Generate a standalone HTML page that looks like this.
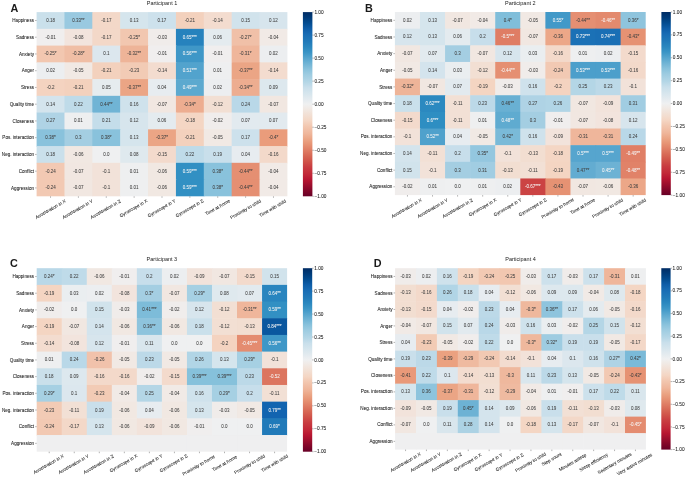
<!DOCTYPE html>
<html><head><meta charset="utf-8"><title>Correlation heatmaps</title>
<style>
html,body{margin:0;padding:0;background:#fff;}
body{width:685px;height:478px;overflow:hidden;position:relative;font-family:"Liberation Sans",sans-serif;color:#1a1a1a;}
#w{position:absolute;left:0;top:0;width:685px;height:478px;filter:blur(0.55px);}
svg{position:absolute;left:0;top:0;}
#t{position:absolute;left:0;top:0;width:685px;height:478px;filter:grayscale(1);}
#t div{position:absolute;white-space:nowrap;line-height:1;}
.yl,.xl,.cl{-webkit-text-stroke:0.06px #1a1a1a;}
.a{-webkit-text-stroke:0.04px currentColor;}
.a{transform:translate(-50%,-50%);font-size:4.5px;color:#404040;}
.yl{transform:translate(-100%,-50%);font-size:4.6px;}
.xl{transform:translate(-50%,-50%) rotate(-30deg);font-size:4.6px;}
.cl{transform:translate(0,-50%);font-size:4.75px;}
.tt{transform:translate(-50%,0);font-size:5.5px;}
.lt{font-weight:bold;font-size:10.8px;}
</style></head><body><div id="w">
<svg width="685" height="478" viewBox="0 0 685 478"><defs><linearGradient id="g0" x1="0" y1="0" x2="0" y2="1"><stop offset="0" stop-color="#002c64"/><stop offset="0.03" stop-color="#003b79"/><stop offset="0.06" stop-color="#034c90"/><stop offset="0.09" stop-color="#0e5da8"/><stop offset="0.12" stop-color="#186cb4"/><stop offset="0.16" stop-color="#217ab9"/><stop offset="0.19" stop-color="#2a87bf"/><stop offset="0.22" stop-color="#3b95c6"/><stop offset="0.25" stop-color="#56a5ce"/><stop offset="0.28" stop-color="#70b4d5"/><stop offset="0.31" stop-color="#89c2dc"/><stop offset="0.34" stop-color="#9ecce1"/><stop offset="0.38" stop-color="#b4d6e6"/><stop offset="0.41" stop-color="#c9dfeb"/><stop offset="0.44" stop-color="#d5e5ed"/><stop offset="0.47" stop-color="#e2eaef"/><stop offset="0.5" stop-color="#eff0f1"/><stop offset="0.53" stop-color="#f1e8e2"/><stop offset="0.56" stop-color="#f2dfd3"/><stop offset="0.59" stop-color="#f4d6c4"/><stop offset="0.62" stop-color="#f2c7b0"/><stop offset="0.66" stop-color="#efb69b"/><stop offset="0.69" stop-color="#eba585"/><stop offset="0.72" stop-color="#e69273"/><stop offset="0.75" stop-color="#df7d64"/><stop offset="0.78" stop-color="#d76855"/><stop offset="0.81" stop-color="#d05349"/><stop offset="0.84" stop-color="#c93d41"/><stop offset="0.88" stop-color="#c22838"/><stop offset="0.91" stop-color="#b71531"/><stop offset="0.94" stop-color="#9c0e2d"/><stop offset="0.97" stop-color="#810629"/><stop offset="1" stop-color="#670026"/></linearGradient><linearGradient id="g1" x1="0" y1="0" x2="0" y2="1"><stop offset="0" stop-color="#002c64"/><stop offset="0.03" stop-color="#003b79"/><stop offset="0.06" stop-color="#034c90"/><stop offset="0.09" stop-color="#0e5da8"/><stop offset="0.12" stop-color="#186cb4"/><stop offset="0.16" stop-color="#217ab9"/><stop offset="0.19" stop-color="#2a87bf"/><stop offset="0.22" stop-color="#3b95c6"/><stop offset="0.25" stop-color="#56a5ce"/><stop offset="0.28" stop-color="#70b4d5"/><stop offset="0.31" stop-color="#89c2dc"/><stop offset="0.34" stop-color="#9ecce1"/><stop offset="0.38" stop-color="#b4d6e6"/><stop offset="0.41" stop-color="#c9dfeb"/><stop offset="0.44" stop-color="#d5e5ed"/><stop offset="0.47" stop-color="#e2eaef"/><stop offset="0.5" stop-color="#eff0f1"/><stop offset="0.53" stop-color="#f1e8e2"/><stop offset="0.56" stop-color="#f2dfd3"/><stop offset="0.59" stop-color="#f4d6c4"/><stop offset="0.62" stop-color="#f2c7b0"/><stop offset="0.66" stop-color="#efb69b"/><stop offset="0.69" stop-color="#eba585"/><stop offset="0.72" stop-color="#e69273"/><stop offset="0.75" stop-color="#df7d64"/><stop offset="0.78" stop-color="#d76855"/><stop offset="0.81" stop-color="#d05349"/><stop offset="0.84" stop-color="#c93d41"/><stop offset="0.88" stop-color="#c22838"/><stop offset="0.91" stop-color="#b71531"/><stop offset="0.94" stop-color="#9c0e2d"/><stop offset="0.97" stop-color="#810629"/><stop offset="1" stop-color="#670026"/></linearGradient><linearGradient id="g2" x1="0" y1="0" x2="0" y2="1"><stop offset="0" stop-color="#002c64"/><stop offset="0.03" stop-color="#003b79"/><stop offset="0.06" stop-color="#034c90"/><stop offset="0.09" stop-color="#0e5da8"/><stop offset="0.12" stop-color="#186cb4"/><stop offset="0.16" stop-color="#217ab9"/><stop offset="0.19" stop-color="#2a87bf"/><stop offset="0.22" stop-color="#3b95c6"/><stop offset="0.25" stop-color="#56a5ce"/><stop offset="0.28" stop-color="#70b4d5"/><stop offset="0.31" stop-color="#89c2dc"/><stop offset="0.34" stop-color="#9ecce1"/><stop offset="0.38" stop-color="#b4d6e6"/><stop offset="0.41" stop-color="#c9dfeb"/><stop offset="0.44" stop-color="#d5e5ed"/><stop offset="0.47" stop-color="#e2eaef"/><stop offset="0.5" stop-color="#eff0f1"/><stop offset="0.53" stop-color="#f1e8e2"/><stop offset="0.56" stop-color="#f2dfd3"/><stop offset="0.59" stop-color="#f4d6c4"/><stop offset="0.62" stop-color="#f2c7b0"/><stop offset="0.66" stop-color="#efb69b"/><stop offset="0.69" stop-color="#eba585"/><stop offset="0.72" stop-color="#e69273"/><stop offset="0.75" stop-color="#df7d64"/><stop offset="0.78" stop-color="#d76855"/><stop offset="0.81" stop-color="#d05349"/><stop offset="0.84" stop-color="#c93d41"/><stop offset="0.88" stop-color="#c22838"/><stop offset="0.91" stop-color="#b71531"/><stop offset="0.94" stop-color="#9c0e2d"/><stop offset="0.97" stop-color="#810629"/><stop offset="1" stop-color="#670026"/></linearGradient><linearGradient id="g3" x1="0" y1="0" x2="0" y2="1"><stop offset="0" stop-color="#002c64"/><stop offset="0.03" stop-color="#003b79"/><stop offset="0.06" stop-color="#034c90"/><stop offset="0.09" stop-color="#0e5da8"/><stop offset="0.12" stop-color="#186cb4"/><stop offset="0.16" stop-color="#217ab9"/><stop offset="0.19" stop-color="#2a87bf"/><stop offset="0.22" stop-color="#3b95c6"/><stop offset="0.25" stop-color="#56a5ce"/><stop offset="0.28" stop-color="#70b4d5"/><stop offset="0.31" stop-color="#89c2dc"/><stop offset="0.34" stop-color="#9ecce1"/><stop offset="0.38" stop-color="#b4d6e6"/><stop offset="0.41" stop-color="#c9dfeb"/><stop offset="0.44" stop-color="#d5e5ed"/><stop offset="0.47" stop-color="#e2eaef"/><stop offset="0.5" stop-color="#eff0f1"/><stop offset="0.53" stop-color="#f1e8e2"/><stop offset="0.56" stop-color="#f2dfd3"/><stop offset="0.59" stop-color="#f4d6c4"/><stop offset="0.62" stop-color="#f2c7b0"/><stop offset="0.66" stop-color="#efb69b"/><stop offset="0.69" stop-color="#eba585"/><stop offset="0.72" stop-color="#e69273"/><stop offset="0.75" stop-color="#df7d64"/><stop offset="0.78" stop-color="#d76855"/><stop offset="0.81" stop-color="#d05349"/><stop offset="0.84" stop-color="#c93d41"/><stop offset="0.88" stop-color="#c22838"/><stop offset="0.91" stop-color="#b71531"/><stop offset="0.94" stop-color="#9c0e2d"/><stop offset="0.97" stop-color="#810629"/><stop offset="1" stop-color="#670026"/></linearGradient></defs>
<g stroke="none">
<rect x="36.6" y="12.1" width="28.47" height="17.35" fill="#cae0eb"/>
<rect x="64.47" y="12.1" width="28.47" height="17.35" fill="#99c9e0"/>
<rect x="92.33" y="12.1" width="28.47" height="17.35" fill="#f3d8c8"/>
<rect x="120.2" y="12.1" width="28.47" height="17.35" fill="#d5e5ed"/>
<rect x="148.07" y="12.1" width="28.47" height="17.35" fill="#cde1ec"/>
<rect x="175.93" y="12.1" width="28.47" height="17.35" fill="#f3d1bd"/>
<rect x="203.8" y="12.1" width="28.47" height="17.35" fill="#f3dccf"/>
<rect x="231.67" y="12.1" width="28.47" height="17.35" fill="#d1e3ec"/>
<rect x="259.53" y="12.1" width="27.87" height="17.35" fill="#d7e5ed"/>
<rect x="36.6" y="28.85" width="28.47" height="17.35" fill="#f0eeee"/>
<rect x="64.47" y="28.85" width="28.47" height="17.35" fill="#f2e4dd"/>
<rect x="92.33" y="28.85" width="28.47" height="17.35" fill="#f3d8c8"/>
<rect x="120.2" y="28.85" width="28.47" height="17.35" fill="#f2c7b0"/>
<rect x="148.07" y="28.85" width="28.47" height="17.35" fill="#f0ecea"/>
<rect x="175.93" y="28.85" width="28.47" height="17.35" fill="#2682bd"/>
<rect x="203.8" y="28.85" width="28.47" height="17.35" fill="#e4ebef"/>
<rect x="231.67" y="28.85" width="28.47" height="17.35" fill="#f0c0a8"/>
<rect x="259.53" y="28.85" width="27.87" height="17.35" fill="#f1eae6"/>
<rect x="36.6" y="45.59" width="28.47" height="17.35" fill="#f2c7b0"/>
<rect x="64.47" y="45.59" width="28.47" height="17.35" fill="#f0bea5"/>
<rect x="92.33" y="45.59" width="28.47" height="17.35" fill="#dce7ee"/>
<rect x="120.2" y="45.59" width="28.47" height="17.35" fill="#eeb498"/>
<rect x="148.07" y="45.59" width="28.47" height="17.35" fill="#f0eeee"/>
<rect x="175.93" y="45.59" width="28.47" height="17.35" fill="#3f97c7"/>
<rect x="203.8" y="45.59" width="28.47" height="17.35" fill="#f0eeee"/>
<rect x="231.67" y="45.59" width="28.47" height="17.35" fill="#efb69b"/>
<rect x="259.53" y="45.59" width="27.87" height="17.35" fill="#eceef0"/>
<rect x="36.6" y="62.34" width="28.47" height="17.35" fill="#eceef0"/>
<rect x="64.47" y="62.34" width="28.47" height="17.35" fill="#f1e9e4"/>
<rect x="92.33" y="62.34" width="28.47" height="17.35" fill="#f3d1bd"/>
<rect x="120.2" y="62.34" width="28.47" height="17.35" fill="#f2cbb5"/>
<rect x="148.07" y="62.34" width="28.47" height="17.35" fill="#f3dccf"/>
<rect x="175.93" y="62.34" width="28.47" height="17.35" fill="#52a3cd"/>
<rect x="203.8" y="62.34" width="28.47" height="17.35" fill="#eeeff0"/>
<rect x="231.67" y="62.34" width="28.47" height="17.35" fill="#eba585"/>
<rect x="259.53" y="62.34" width="27.87" height="17.35" fill="#f3dccf"/>
<rect x="36.6" y="79.08" width="28.47" height="17.35" fill="#f4d3c0"/>
<rect x="64.47" y="79.08" width="28.47" height="17.35" fill="#f3d1bd"/>
<rect x="92.33" y="79.08" width="28.47" height="17.35" fill="#e6ecef"/>
<rect x="120.2" y="79.08" width="28.47" height="17.35" fill="#eba585"/>
<rect x="148.07" y="79.08" width="28.47" height="17.35" fill="#e7ecf0"/>
<rect x="175.93" y="79.08" width="28.47" height="17.35" fill="#5ca9cf"/>
<rect x="203.8" y="79.08" width="28.47" height="17.35" fill="#eceef0"/>
<rect x="231.67" y="79.08" width="28.47" height="17.35" fill="#edad90"/>
<rect x="259.53" y="79.08" width="27.87" height="17.35" fill="#dde8ee"/>
<rect x="36.6" y="95.83" width="28.47" height="17.35" fill="#d4e4ed"/>
<rect x="64.47" y="95.83" width="28.47" height="17.35" fill="#bfdbe9"/>
<rect x="92.33" y="95.83" width="28.47" height="17.35" fill="#70b4d5"/>
<rect x="120.2" y="95.83" width="28.47" height="17.35" fill="#cfe2ec"/>
<rect x="148.07" y="95.83" width="28.47" height="17.35" fill="#f1e7e1"/>
<rect x="175.93" y="95.83" width="28.47" height="17.35" fill="#edad90"/>
<rect x="203.8" y="95.83" width="28.47" height="17.35" fill="#f2dfd3"/>
<rect x="231.67" y="95.83" width="28.47" height="17.35" fill="#b9d8e8"/>
<rect x="259.53" y="95.83" width="27.87" height="17.35" fill="#f1e7e1"/>
<rect x="36.6" y="112.57" width="28.47" height="17.35" fill="#afd3e5"/>
<rect x="64.47" y="112.57" width="28.47" height="17.35" fill="#eeeff0"/>
<rect x="92.33" y="112.57" width="28.47" height="17.35" fill="#c4ddea"/>
<rect x="120.2" y="112.57" width="28.47" height="17.35" fill="#d7e5ed"/>
<rect x="148.07" y="112.57" width="28.47" height="17.35" fill="#e4ebef"/>
<rect x="175.93" y="112.57" width="28.47" height="17.35" fill="#f4d6c4"/>
<rect x="203.8" y="112.57" width="28.47" height="17.35" fill="#f0edec"/>
<rect x="231.67" y="112.57" width="28.47" height="17.35" fill="#e2eaef"/>
<rect x="259.53" y="112.57" width="27.87" height="17.35" fill="#e2eaef"/>
<rect x="36.6" y="129.32" width="28.47" height="17.35" fill="#89c2dc"/>
<rect x="64.47" y="129.32" width="28.47" height="17.35" fill="#a4cee2"/>
<rect x="92.33" y="129.32" width="28.47" height="17.35" fill="#89c2dc"/>
<rect x="120.2" y="129.32" width="28.47" height="17.35" fill="#d5e5ed"/>
<rect x="148.07" y="129.32" width="28.47" height="17.35" fill="#eba585"/>
<rect x="175.93" y="129.32" width="28.47" height="17.35" fill="#f3d1bd"/>
<rect x="203.8" y="129.32" width="28.47" height="17.35" fill="#f1e9e4"/>
<rect x="231.67" y="129.32" width="28.47" height="17.35" fill="#cde1ec"/>
<rect x="259.53" y="129.32" width="27.87" height="17.35" fill="#ea9c7b"/>
<rect x="36.6" y="146.06" width="28.47" height="17.35" fill="#cae0eb"/>
<rect x="64.47" y="146.06" width="28.47" height="17.35" fill="#f1e8e2"/>
<rect x="92.33" y="146.06" width="28.47" height="17.35" fill="#eff0f1"/>
<rect x="120.2" y="146.06" width="28.47" height="17.35" fill="#dfe9ee"/>
<rect x="148.07" y="146.06" width="28.47" height="17.35" fill="#f3dacc"/>
<rect x="175.93" y="146.06" width="28.47" height="17.35" fill="#bfdbe9"/>
<rect x="203.8" y="146.06" width="28.47" height="17.35" fill="#c9dfeb"/>
<rect x="231.67" y="146.06" width="28.47" height="17.35" fill="#e7ecf0"/>
<rect x="259.53" y="146.06" width="27.87" height="17.35" fill="#f3d9ca"/>
<rect x="36.6" y="162.81" width="28.47" height="17.35" fill="#f2c9b3"/>
<rect x="64.47" y="162.81" width="28.47" height="17.35" fill="#f1e7e1"/>
<rect x="92.33" y="162.81" width="28.47" height="17.35" fill="#f2e2d9"/>
<rect x="120.2" y="162.81" width="28.47" height="17.35" fill="#eeeff0"/>
<rect x="148.07" y="162.81" width="28.47" height="17.35" fill="#f1e8e2"/>
<rect x="175.93" y="162.81" width="28.47" height="17.35" fill="#3290c3"/>
<rect x="203.8" y="162.81" width="28.47" height="17.35" fill="#89c2dc"/>
<rect x="231.67" y="162.81" width="28.47" height="17.35" fill="#e58f72"/>
<rect x="259.53" y="162.81" width="27.87" height="17.35" fill="#f1eae6"/>
<rect x="36.6" y="179.55" width="28.47" height="16.75" fill="#f2c9b3"/>
<rect x="64.47" y="179.55" width="28.47" height="16.75" fill="#f1e7e1"/>
<rect x="92.33" y="179.55" width="28.47" height="16.75" fill="#f2e2d9"/>
<rect x="120.2" y="179.55" width="28.47" height="16.75" fill="#eeeff0"/>
<rect x="148.07" y="179.55" width="28.47" height="16.75" fill="#f1e8e2"/>
<rect x="175.93" y="179.55" width="28.47" height="16.75" fill="#3290c3"/>
<rect x="203.8" y="179.55" width="28.47" height="16.75" fill="#89c2dc"/>
<rect x="231.67" y="179.55" width="28.47" height="16.75" fill="#e58f72"/>
<rect x="259.53" y="179.55" width="27.87" height="16.75" fill="#f1eae6"/>
<rect x="302.9" y="12.1" width="9.5" height="184.2" fill="url(#g0)"/>
<rect x="394.9" y="12" width="25.68" height="17.25" fill="#eceef0"/>
<rect x="419.98" y="12" width="25.68" height="17.25" fill="#d5e5ed"/>
<rect x="445.06" y="12" width="25.68" height="17.25" fill="#f1e7e1"/>
<rect x="470.14" y="12" width="25.68" height="17.25" fill="#f1eae6"/>
<rect x="495.22" y="12" width="25.68" height="17.25" fill="#80beda"/>
<rect x="520.3" y="12" width="25.68" height="17.25" fill="#f1e9e4"/>
<rect x="545.38" y="12" width="25.68" height="17.25" fill="#4299c8"/>
<rect x="570.46" y="12" width="25.68" height="17.25" fill="#e58f72"/>
<rect x="595.54" y="12" width="25.68" height="17.25" fill="#e38a6e"/>
<rect x="620.62" y="12" width="25.08" height="17.25" fill="#8ec4dd"/>
<rect x="394.9" y="28.65" width="25.68" height="17.25" fill="#d7e5ed"/>
<rect x="419.98" y="28.65" width="25.68" height="17.25" fill="#d5e5ed"/>
<rect x="445.06" y="28.65" width="25.68" height="17.25" fill="#e4ebef"/>
<rect x="470.14" y="28.65" width="25.68" height="17.25" fill="#c7deeb"/>
<rect x="495.22" y="28.65" width="25.68" height="17.25" fill="#df7d64"/>
<rect x="520.3" y="28.65" width="25.68" height="17.25" fill="#f1e7e1"/>
<rect x="545.38" y="28.65" width="25.68" height="17.25" fill="#eca788"/>
<rect x="570.46" y="28.65" width="25.68" height="17.25" fill="#1b71b6"/>
<rect x="595.54" y="28.65" width="25.68" height="17.25" fill="#1a6fb5"/>
<rect x="620.62" y="28.65" width="25.08" height="17.25" fill="#e69273"/>
<rect x="394.9" y="45.29" width="25.68" height="17.25" fill="#f1e7e1"/>
<rect x="419.98" y="45.29" width="25.68" height="17.25" fill="#e2eaef"/>
<rect x="445.06" y="45.29" width="25.68" height="17.25" fill="#a4cee2"/>
<rect x="470.14" y="45.29" width="25.68" height="17.25" fill="#f1e7e1"/>
<rect x="495.22" y="45.29" width="25.68" height="17.25" fill="#d7e5ed"/>
<rect x="520.3" y="45.29" width="25.68" height="17.25" fill="#eaeef0"/>
<rect x="545.38" y="45.29" width="25.68" height="17.25" fill="#f3d9ca"/>
<rect x="570.46" y="45.29" width="25.68" height="17.25" fill="#eeeff0"/>
<rect x="595.54" y="45.29" width="25.68" height="17.25" fill="#eceef0"/>
<rect x="620.62" y="45.29" width="25.08" height="17.25" fill="#f3dacc"/>
<rect x="394.9" y="61.94" width="25.68" height="17.25" fill="#f1e9e4"/>
<rect x="419.98" y="61.94" width="25.68" height="17.25" fill="#d4e4ed"/>
<rect x="445.06" y="61.94" width="25.68" height="17.25" fill="#eaeef0"/>
<rect x="470.14" y="61.94" width="25.68" height="17.25" fill="#f2dfd3"/>
<rect x="495.22" y="61.94" width="25.68" height="17.25" fill="#e58f72"/>
<rect x="520.3" y="61.94" width="25.68" height="17.25" fill="#f0ecea"/>
<rect x="545.38" y="61.94" width="25.68" height="17.25" fill="#f2c9b3"/>
<rect x="570.46" y="61.94" width="25.68" height="17.25" fill="#4c9fcb"/>
<rect x="595.54" y="61.94" width="25.68" height="17.25" fill="#4c9fcb"/>
<rect x="620.62" y="61.94" width="25.08" height="17.25" fill="#f3d9ca"/>
<rect x="394.9" y="78.58" width="25.68" height="17.25" fill="#eeb498"/>
<rect x="419.98" y="78.58" width="25.68" height="17.25" fill="#f1e7e1"/>
<rect x="445.06" y="78.58" width="25.68" height="17.25" fill="#e2eaef"/>
<rect x="470.14" y="78.58" width="25.68" height="17.25" fill="#f4d5c2"/>
<rect x="495.22" y="78.58" width="25.68" height="17.25" fill="#f0ecea"/>
<rect x="520.3" y="78.58" width="25.68" height="17.25" fill="#cfe2ec"/>
<rect x="545.38" y="78.58" width="25.68" height="17.25" fill="#f4d3c0"/>
<rect x="570.46" y="78.58" width="25.68" height="17.25" fill="#b4d6e6"/>
<rect x="595.54" y="78.58" width="25.68" height="17.25" fill="#bcd9e8"/>
<rect x="620.62" y="78.58" width="25.08" height="17.25" fill="#f2e2d9"/>
<rect x="394.9" y="95.23" width="25.68" height="17.25" fill="#cae0eb"/>
<rect x="419.98" y="95.23" width="25.68" height="17.25" fill="#2b89c0"/>
<rect x="445.06" y="95.23" width="25.68" height="17.25" fill="#f2e0d5"/>
<rect x="470.14" y="95.23" width="25.68" height="17.25" fill="#bcd9e8"/>
<rect x="495.22" y="95.23" width="25.68" height="17.25" fill="#69b0d3"/>
<rect x="520.3" y="95.23" width="25.68" height="17.25" fill="#afd3e5"/>
<rect x="545.38" y="95.23" width="25.68" height="17.25" fill="#b1d5e6"/>
<rect x="570.46" y="95.23" width="25.68" height="17.25" fill="#f1e7e1"/>
<rect x="595.54" y="95.23" width="25.68" height="17.25" fill="#f2e3db"/>
<rect x="620.62" y="95.23" width="25.08" height="17.25" fill="#a1cde2"/>
<rect x="394.9" y="111.87" width="25.68" height="17.25" fill="#f3dacc"/>
<rect x="419.98" y="111.87" width="25.68" height="17.25" fill="#2e8ec2"/>
<rect x="445.06" y="111.87" width="25.68" height="17.25" fill="#f2e0d5"/>
<rect x="470.14" y="111.87" width="25.68" height="17.25" fill="#eeeff0"/>
<rect x="495.22" y="111.87" width="25.68" height="17.25" fill="#5fabd0"/>
<rect x="520.3" y="111.87" width="25.68" height="17.25" fill="#a4cee2"/>
<rect x="545.38" y="111.87" width="25.68" height="17.25" fill="#f0eeee"/>
<rect x="570.46" y="111.87" width="25.68" height="17.25" fill="#f1e7e1"/>
<rect x="595.54" y="111.87" width="25.68" height="17.25" fill="#f2e4dd"/>
<rect x="620.62" y="111.87" width="25.08" height="17.25" fill="#d7e5ed"/>
<rect x="394.9" y="128.52" width="25.68" height="17.25" fill="#f2e2d9"/>
<rect x="419.98" y="128.52" width="25.68" height="17.25" fill="#4fa1cc"/>
<rect x="445.06" y="128.52" width="25.68" height="17.25" fill="#e7ecf0"/>
<rect x="470.14" y="128.52" width="25.68" height="17.25" fill="#f1e9e4"/>
<rect x="495.22" y="128.52" width="25.68" height="17.25" fill="#7abad8"/>
<rect x="520.3" y="128.52" width="25.68" height="17.25" fill="#cfe2ec"/>
<rect x="545.38" y="128.52" width="25.68" height="17.25" fill="#f2e3db"/>
<rect x="570.46" y="128.52" width="25.68" height="17.25" fill="#efb69b"/>
<rect x="595.54" y="128.52" width="25.68" height="17.25" fill="#efb69b"/>
<rect x="620.62" y="128.52" width="25.08" height="17.25" fill="#b9d8e8"/>
<rect x="394.9" y="145.16" width="25.68" height="17.25" fill="#d4e4ed"/>
<rect x="419.98" y="145.16" width="25.68" height="17.25" fill="#f2e0d5"/>
<rect x="445.06" y="145.16" width="25.68" height="17.25" fill="#c7deeb"/>
<rect x="470.14" y="145.16" width="25.68" height="17.25" fill="#94c7df"/>
<rect x="495.22" y="145.16" width="25.68" height="17.25" fill="#f2e2d9"/>
<rect x="520.3" y="145.16" width="25.68" height="17.25" fill="#f2ded1"/>
<rect x="545.38" y="145.16" width="25.68" height="17.25" fill="#f4d6c4"/>
<rect x="570.46" y="145.16" width="25.68" height="17.25" fill="#56a5ce"/>
<rect x="595.54" y="145.16" width="25.68" height="17.25" fill="#56a5ce"/>
<rect x="620.62" y="145.16" width="25.08" height="17.25" fill="#e07f66"/>
<rect x="394.9" y="161.81" width="25.68" height="17.25" fill="#d1e3ec"/>
<rect x="419.98" y="161.81" width="25.68" height="17.25" fill="#f2e2d9"/>
<rect x="445.06" y="161.81" width="25.68" height="17.25" fill="#a4cee2"/>
<rect x="470.14" y="161.81" width="25.68" height="17.25" fill="#a1cde2"/>
<rect x="495.22" y="161.81" width="25.68" height="17.25" fill="#f2ded1"/>
<rect x="520.3" y="161.81" width="25.68" height="17.25" fill="#f2e0d5"/>
<rect x="545.38" y="161.81" width="25.68" height="17.25" fill="#f4d5c2"/>
<rect x="570.46" y="161.81" width="25.68" height="17.25" fill="#63acd1"/>
<rect x="595.54" y="161.81" width="25.68" height="17.25" fill="#6db2d4"/>
<rect x="620.62" y="161.81" width="25.08" height="17.25" fill="#e18268"/>
<rect x="394.9" y="178.45" width="25.68" height="16.65" fill="#f0edec"/>
<rect x="419.98" y="178.45" width="25.68" height="16.65" fill="#eeeff0"/>
<rect x="445.06" y="178.45" width="25.68" height="16.65" fill="#eff0f1"/>
<rect x="470.14" y="178.45" width="25.68" height="16.65" fill="#eeeff0"/>
<rect x="495.22" y="178.45" width="25.68" height="16.65" fill="#eceef0"/>
<rect x="520.3" y="178.45" width="25.68" height="16.65" fill="#cb4343"/>
<rect x="545.38" y="178.45" width="25.68" height="16.65" fill="#e69273"/>
<rect x="570.46" y="178.45" width="25.68" height="16.65" fill="#f1e7e1"/>
<rect x="595.54" y="178.45" width="25.68" height="16.65" fill="#f1e8e2"/>
<rect x="620.62" y="178.45" width="25.08" height="16.65" fill="#eca788"/>
<rect x="661.4" y="12" width="9.4" height="183.1" fill="url(#g1)"/>
<rect x="36.7" y="268.2" width="25.64" height="17.28" fill="#b9d8e8"/>
<rect x="61.74" y="268.2" width="25.64" height="17.28" fill="#bfdbe9"/>
<rect x="86.78" y="268.2" width="25.64" height="17.28" fill="#f1e8e2"/>
<rect x="111.82" y="268.2" width="25.64" height="17.28" fill="#f0eeee"/>
<rect x="136.86" y="268.2" width="25.64" height="17.28" fill="#c7deeb"/>
<rect x="161.9" y="268.2" width="25.64" height="17.28" fill="#eceef0"/>
<rect x="186.94" y="268.2" width="25.64" height="17.28" fill="#f2e3db"/>
<rect x="211.98" y="268.2" width="25.64" height="17.28" fill="#f1e7e1"/>
<rect x="237.02" y="268.2" width="25.64" height="17.28" fill="#f3dacc"/>
<rect x="262.06" y="268.2" width="25.04" height="17.28" fill="#d1e3ec"/>
<rect x="36.7" y="284.88" width="25.64" height="17.28" fill="#f4d5c2"/>
<rect x="61.74" y="284.88" width="25.64" height="17.28" fill="#eaeef0"/>
<rect x="86.78" y="284.88" width="25.64" height="17.28" fill="#eceef0"/>
<rect x="111.82" y="284.88" width="25.64" height="17.28" fill="#f2e4dd"/>
<rect x="136.86" y="284.88" width="25.64" height="17.28" fill="#a4cee2"/>
<rect x="161.9" y="284.88" width="25.64" height="17.28" fill="#f1e7e1"/>
<rect x="186.94" y="284.88" width="25.64" height="17.28" fill="#a6d0e3"/>
<rect x="211.98" y="284.88" width="25.64" height="17.28" fill="#dfe9ee"/>
<rect x="237.02" y="284.88" width="25.64" height="17.28" fill="#e2eaef"/>
<rect x="262.06" y="284.88" width="25.04" height="17.28" fill="#2985bf"/>
<rect x="36.7" y="301.56" width="25.64" height="17.28" fill="#f0edec"/>
<rect x="61.74" y="301.56" width="25.64" height="17.28" fill="#eff0f1"/>
<rect x="86.78" y="301.56" width="25.64" height="17.28" fill="#d1e3ec"/>
<rect x="111.82" y="301.56" width="25.64" height="17.28" fill="#f0ecea"/>
<rect x="136.86" y="301.56" width="25.64" height="17.28" fill="#7dbcd9"/>
<rect x="161.9" y="301.56" width="25.64" height="17.28" fill="#f0edec"/>
<rect x="186.94" y="301.56" width="25.64" height="17.28" fill="#d7e5ed"/>
<rect x="211.98" y="301.56" width="25.64" height="17.28" fill="#f2dfd3"/>
<rect x="237.02" y="301.56" width="25.64" height="17.28" fill="#efb69b"/>
<rect x="262.06" y="301.56" width="25.04" height="17.28" fill="#3290c3"/>
<rect x="36.7" y="318.25" width="25.64" height="17.28" fill="#f4d5c2"/>
<rect x="61.74" y="318.25" width="25.64" height="17.28" fill="#f1e7e1"/>
<rect x="86.78" y="318.25" width="25.64" height="17.28" fill="#d4e4ed"/>
<rect x="111.82" y="318.25" width="25.64" height="17.28" fill="#f1e8e2"/>
<rect x="136.86" y="318.25" width="25.64" height="17.28" fill="#8ec4dd"/>
<rect x="161.9" y="318.25" width="25.64" height="17.28" fill="#f1e8e2"/>
<rect x="186.94" y="318.25" width="25.64" height="17.28" fill="#cae0eb"/>
<rect x="211.98" y="318.25" width="25.64" height="17.28" fill="#f2dfd3"/>
<rect x="237.02" y="318.25" width="25.64" height="17.28" fill="#f2ded1"/>
<rect x="262.06" y="318.25" width="25.04" height="17.28" fill="#0a579f"/>
<rect x="36.7" y="334.93" width="25.64" height="17.28" fill="#f3dccf"/>
<rect x="61.74" y="334.93" width="25.64" height="17.28" fill="#f2e4dd"/>
<rect x="86.78" y="334.93" width="25.64" height="17.28" fill="#d7e5ed"/>
<rect x="111.82" y="334.93" width="25.64" height="17.28" fill="#f0eeee"/>
<rect x="136.86" y="334.93" width="25.64" height="17.28" fill="#d9e6ed"/>
<rect x="161.9" y="334.93" width="25.64" height="17.28" fill="#eff0f1"/>
<rect x="186.94" y="334.93" width="25.64" height="17.28" fill="#eff0f1"/>
<rect x="211.98" y="334.93" width="25.64" height="17.28" fill="#f4d3c0"/>
<rect x="237.02" y="334.93" width="25.64" height="17.28" fill="#e48c70"/>
<rect x="262.06" y="334.93" width="25.04" height="17.28" fill="#3f97c7"/>
<rect x="36.7" y="351.61" width="25.64" height="17.28" fill="#eeeff0"/>
<rect x="61.74" y="351.61" width="25.64" height="17.28" fill="#b9d8e8"/>
<rect x="86.78" y="351.61" width="25.64" height="17.28" fill="#f1c2ab"/>
<rect x="111.82" y="351.61" width="25.64" height="17.28" fill="#f1e9e4"/>
<rect x="136.86" y="351.61" width="25.64" height="17.28" fill="#bcd9e8"/>
<rect x="161.9" y="351.61" width="25.64" height="17.28" fill="#f1e9e4"/>
<rect x="186.94" y="351.61" width="25.64" height="17.28" fill="#b1d5e6"/>
<rect x="211.98" y="351.61" width="25.64" height="17.28" fill="#d5e5ed"/>
<rect x="237.02" y="351.61" width="25.64" height="17.28" fill="#a6d0e3"/>
<rect x="262.06" y="351.61" width="25.04" height="17.28" fill="#f2e2d9"/>
<rect x="36.7" y="368.29" width="25.64" height="17.28" fill="#cae0eb"/>
<rect x="61.74" y="368.29" width="25.64" height="17.28" fill="#dde8ee"/>
<rect x="86.78" y="368.29" width="25.64" height="17.28" fill="#f3d9ca"/>
<rect x="111.82" y="368.29" width="25.64" height="17.28" fill="#f3d9ca"/>
<rect x="136.86" y="368.29" width="25.64" height="17.28" fill="#f0edec"/>
<rect x="161.9" y="368.29" width="25.64" height="17.28" fill="#f3dacc"/>
<rect x="186.94" y="368.29" width="25.64" height="17.28" fill="#86c1db"/>
<rect x="211.98" y="368.29" width="25.64" height="17.28" fill="#86c1db"/>
<rect x="237.02" y="368.29" width="25.64" height="17.28" fill="#bcd9e8"/>
<rect x="262.06" y="368.29" width="25.04" height="17.28" fill="#dc755f"/>
<rect x="36.7" y="384.97" width="25.64" height="17.28" fill="#a6d0e3"/>
<rect x="61.74" y="384.97" width="25.64" height="17.28" fill="#dce7ee"/>
<rect x="86.78" y="384.97" width="25.64" height="17.28" fill="#f2cbb5"/>
<rect x="111.82" y="384.97" width="25.64" height="17.28" fill="#f1eae6"/>
<rect x="136.86" y="384.97" width="25.64" height="17.28" fill="#b4d6e6"/>
<rect x="161.9" y="384.97" width="25.64" height="17.28" fill="#f1eae6"/>
<rect x="186.94" y="384.97" width="25.64" height="17.28" fill="#cfe2ec"/>
<rect x="211.98" y="384.97" width="25.64" height="17.28" fill="#a6d0e3"/>
<rect x="237.02" y="384.97" width="25.64" height="17.28" fill="#c7deeb"/>
<rect x="262.06" y="384.97" width="25.04" height="17.28" fill="#f2e0d5"/>
<rect x="36.7" y="401.65" width="25.64" height="17.28" fill="#f2cbb5"/>
<rect x="61.74" y="401.65" width="25.64" height="17.28" fill="#f2e0d5"/>
<rect x="86.78" y="401.65" width="25.64" height="17.28" fill="#c9dfeb"/>
<rect x="111.82" y="401.65" width="25.64" height="17.28" fill="#f1e8e2"/>
<rect x="136.86" y="401.65" width="25.64" height="17.28" fill="#e7ecf0"/>
<rect x="161.9" y="401.65" width="25.64" height="17.28" fill="#f1e8e2"/>
<rect x="186.94" y="401.65" width="25.64" height="17.28" fill="#d5e5ed"/>
<rect x="211.98" y="401.65" width="25.64" height="17.28" fill="#f0ecea"/>
<rect x="237.02" y="401.65" width="25.64" height="17.28" fill="#f1e9e4"/>
<rect x="262.06" y="401.65" width="25.04" height="17.28" fill="#1264b0"/>
<rect x="36.7" y="418.34" width="25.64" height="17.28" fill="#f2c9b3"/>
<rect x="61.74" y="418.34" width="25.64" height="17.28" fill="#f3d8c8"/>
<rect x="86.78" y="418.34" width="25.64" height="17.28" fill="#d5e5ed"/>
<rect x="111.82" y="418.34" width="25.64" height="17.28" fill="#f1e8e2"/>
<rect x="136.86" y="418.34" width="25.64" height="17.28" fill="#f2e3db"/>
<rect x="161.9" y="418.34" width="25.64" height="17.28" fill="#f1e8e2"/>
<rect x="186.94" y="418.34" width="25.64" height="17.28" fill="#f0eeee"/>
<rect x="211.98" y="418.34" width="25.64" height="17.28" fill="#eff0f1"/>
<rect x="237.02" y="418.34" width="25.64" height="17.28" fill="#eff0f1"/>
<rect x="262.06" y="418.34" width="25.04" height="17.28" fill="#217ab9"/>
<rect x="36.7" y="435.02" width="25.64" height="16.68" fill="#efeff0"/>
<rect x="61.74" y="435.02" width="25.64" height="16.68" fill="#efeff0"/>
<rect x="86.78" y="435.02" width="25.64" height="16.68" fill="#efeff0"/>
<rect x="111.82" y="435.02" width="25.64" height="16.68" fill="#efeff0"/>
<rect x="136.86" y="435.02" width="25.64" height="16.68" fill="#efeff0"/>
<rect x="161.9" y="435.02" width="25.64" height="16.68" fill="#efeff0"/>
<rect x="186.94" y="435.02" width="25.64" height="16.68" fill="#efeff0"/>
<rect x="211.98" y="435.02" width="25.64" height="16.68" fill="#efeff0"/>
<rect x="237.02" y="435.02" width="25.64" height="16.68" fill="#efeff0"/>
<rect x="262.06" y="435.02" width="25.04" height="16.68" fill="#efeff0"/>
<rect x="302.9" y="268.2" width="9.3" height="183.5" fill="url(#g2)"/>
<rect x="395.1" y="268.2" width="21.5" height="17.09" fill="#f0ecea"/>
<rect x="416" y="268.2" width="21.5" height="17.09" fill="#eceef0"/>
<rect x="436.9" y="268.2" width="21.5" height="17.09" fill="#cfe2ec"/>
<rect x="457.8" y="268.2" width="21.5" height="17.09" fill="#f4d5c2"/>
<rect x="478.7" y="268.2" width="21.5" height="17.09" fill="#f2c9b3"/>
<rect x="499.6" y="268.2" width="21.5" height="17.09" fill="#f2c7b0"/>
<rect x="520.5" y="268.2" width="21.5" height="17.09" fill="#f0ecea"/>
<rect x="541.4" y="268.2" width="21.5" height="17.09" fill="#cde1ec"/>
<rect x="562.3" y="268.2" width="21.5" height="17.09" fill="#f0ecea"/>
<rect x="583.2" y="268.2" width="21.5" height="17.09" fill="#cde1ec"/>
<rect x="604.1" y="268.2" width="21.5" height="17.09" fill="#efb69b"/>
<rect x="625" y="268.2" width="20.9" height="17.09" fill="#eeeff0"/>
<rect x="395.1" y="284.69" width="21.5" height="17.09" fill="#f2ded1"/>
<rect x="416" y="284.69" width="21.5" height="17.09" fill="#f3d9ca"/>
<rect x="436.9" y="284.69" width="21.5" height="17.09" fill="#b1d5e6"/>
<rect x="457.8" y="284.69" width="21.5" height="17.09" fill="#cae0eb"/>
<rect x="478.7" y="284.69" width="21.5" height="17.09" fill="#e7ecf0"/>
<rect x="499.6" y="284.69" width="21.5" height="17.09" fill="#f2dfd3"/>
<rect x="520.5" y="284.69" width="21.5" height="17.09" fill="#f1e8e2"/>
<rect x="541.4" y="284.69" width="21.5" height="17.09" fill="#dde8ee"/>
<rect x="562.3" y="284.69" width="21.5" height="17.09" fill="#dde8ee"/>
<rect x="583.2" y="284.69" width="21.5" height="17.09" fill="#f1eae6"/>
<rect x="604.1" y="284.69" width="21.5" height="17.09" fill="#dfe9ee"/>
<rect x="625" y="284.69" width="20.9" height="17.09" fill="#f4d6c4"/>
<rect x="395.1" y="301.18" width="21.5" height="17.09" fill="#f2ded1"/>
<rect x="416" y="301.18" width="21.5" height="17.09" fill="#f3dacc"/>
<rect x="436.9" y="301.18" width="21.5" height="17.09" fill="#e7ecf0"/>
<rect x="457.8" y="301.18" width="21.5" height="17.09" fill="#f0edec"/>
<rect x="478.7" y="301.18" width="21.5" height="17.09" fill="#bcd9e8"/>
<rect x="499.6" y="301.18" width="21.5" height="17.09" fill="#e7ecf0"/>
<rect x="520.5" y="301.18" width="21.5" height="17.09" fill="#efb89d"/>
<rect x="541.4" y="301.18" width="21.5" height="17.09" fill="#8ec4dd"/>
<rect x="562.3" y="301.18" width="21.5" height="17.09" fill="#cde1ec"/>
<rect x="583.2" y="301.18" width="21.5" height="17.09" fill="#e4ebef"/>
<rect x="604.1" y="301.18" width="21.5" height="17.09" fill="#f1e9e4"/>
<rect x="625" y="301.18" width="20.9" height="17.09" fill="#f3d9ca"/>
<rect x="395.1" y="317.67" width="21.5" height="17.09" fill="#f1eae6"/>
<rect x="416" y="317.67" width="21.5" height="17.09" fill="#f1e7e1"/>
<rect x="436.9" y="317.67" width="21.5" height="17.09" fill="#d1e3ec"/>
<rect x="457.8" y="317.67" width="21.5" height="17.09" fill="#e2eaef"/>
<rect x="478.7" y="317.67" width="21.5" height="17.09" fill="#b9d8e8"/>
<rect x="499.6" y="317.67" width="21.5" height="17.09" fill="#f0ecea"/>
<rect x="520.5" y="317.67" width="21.5" height="17.09" fill="#cfe2ec"/>
<rect x="541.4" y="317.67" width="21.5" height="17.09" fill="#eaeef0"/>
<rect x="562.3" y="317.67" width="21.5" height="17.09" fill="#f0edec"/>
<rect x="583.2" y="317.67" width="21.5" height="17.09" fill="#b4d6e6"/>
<rect x="604.1" y="317.67" width="21.5" height="17.09" fill="#d1e3ec"/>
<rect x="625" y="317.67" width="20.9" height="17.09" fill="#f2dfd3"/>
<rect x="395.1" y="334.16" width="21.5" height="17.09" fill="#e7ecf0"/>
<rect x="416" y="334.16" width="21.5" height="17.09" fill="#f2cbb5"/>
<rect x="436.9" y="334.16" width="21.5" height="17.09" fill="#f1e9e4"/>
<rect x="457.8" y="334.16" width="21.5" height="17.09" fill="#f0edec"/>
<rect x="478.7" y="334.16" width="21.5" height="17.09" fill="#bfdbe9"/>
<rect x="499.6" y="334.16" width="21.5" height="17.09" fill="#eff0f1"/>
<rect x="520.5" y="334.16" width="21.5" height="17.09" fill="#efb89d"/>
<rect x="541.4" y="334.16" width="21.5" height="17.09" fill="#9ecce1"/>
<rect x="562.3" y="334.16" width="21.5" height="17.09" fill="#c9dfeb"/>
<rect x="583.2" y="334.16" width="21.5" height="17.09" fill="#c9dfeb"/>
<rect x="604.1" y="334.16" width="21.5" height="17.09" fill="#f1e9e4"/>
<rect x="625" y="334.16" width="20.9" height="17.09" fill="#f3d8c8"/>
<rect x="395.1" y="350.65" width="21.5" height="17.09" fill="#c9dfeb"/>
<rect x="416" y="350.65" width="21.5" height="17.09" fill="#bcd9e8"/>
<rect x="436.9" y="350.65" width="21.5" height="17.09" fill="#eba180"/>
<rect x="457.8" y="350.65" width="21.5" height="17.09" fill="#efbaa0"/>
<rect x="478.7" y="350.65" width="21.5" height="17.09" fill="#f2c9b3"/>
<rect x="499.6" y="350.65" width="21.5" height="17.09" fill="#f3dccf"/>
<rect x="520.5" y="350.65" width="21.5" height="17.09" fill="#f2e2d9"/>
<rect x="541.4" y="350.65" width="21.5" height="17.09" fill="#e7ecf0"/>
<rect x="562.3" y="350.65" width="21.5" height="17.09" fill="#dce7ee"/>
<rect x="583.2" y="350.65" width="21.5" height="17.09" fill="#cfe2ec"/>
<rect x="604.1" y="350.65" width="21.5" height="17.09" fill="#afd3e5"/>
<rect x="625" y="350.65" width="20.9" height="17.09" fill="#7abad8"/>
<rect x="395.1" y="367.15" width="21.5" height="17.09" fill="#e99979"/>
<rect x="416" y="367.15" width="21.5" height="17.09" fill="#bfdbe9"/>
<rect x="436.9" y="367.15" width="21.5" height="17.09" fill="#dce7ee"/>
<rect x="457.8" y="367.15" width="21.5" height="17.09" fill="#f3dccf"/>
<rect x="478.7" y="367.15" width="21.5" height="17.09" fill="#f2ded1"/>
<rect x="499.6" y="367.15" width="21.5" height="17.09" fill="#efb89d"/>
<rect x="520.5" y="367.15" width="21.5" height="17.09" fill="#d9e6ed"/>
<rect x="541.4" y="367.15" width="21.5" height="17.09" fill="#bcd9e8"/>
<rect x="562.3" y="367.15" width="21.5" height="17.09" fill="#d5e5ed"/>
<rect x="583.2" y="367.15" width="21.5" height="17.09" fill="#f1e9e4"/>
<rect x="604.1" y="367.15" width="21.5" height="17.09" fill="#f2c9b3"/>
<rect x="625" y="367.15" width="20.9" height="17.09" fill="#e69273"/>
<rect x="395.1" y="383.64" width="21.5" height="17.09" fill="#d5e5ed"/>
<rect x="416" y="383.64" width="21.5" height="17.09" fill="#8ec4dd"/>
<rect x="436.9" y="383.64" width="21.5" height="17.09" fill="#eba585"/>
<rect x="457.8" y="383.64" width="21.5" height="17.09" fill="#efb69b"/>
<rect x="478.7" y="383.64" width="21.5" height="17.09" fill="#f2dfd3"/>
<rect x="499.6" y="383.64" width="21.5" height="17.09" fill="#efbaa0"/>
<rect x="520.5" y="383.64" width="21.5" height="17.09" fill="#f1eae6"/>
<rect x="541.4" y="383.64" width="21.5" height="17.09" fill="#eeeff0"/>
<rect x="562.3" y="383.64" width="21.5" height="17.09" fill="#f0eeee"/>
<rect x="583.2" y="383.64" width="21.5" height="17.09" fill="#cde1ec"/>
<rect x="604.1" y="383.64" width="21.5" height="17.09" fill="#bfdbe9"/>
<rect x="625" y="383.64" width="20.9" height="17.09" fill="#d9e6ed"/>
<rect x="395.1" y="400.13" width="21.5" height="17.09" fill="#f2e3db"/>
<rect x="416" y="400.13" width="21.5" height="17.09" fill="#f1e9e4"/>
<rect x="436.9" y="400.13" width="21.5" height="17.09" fill="#c9dfeb"/>
<rect x="457.8" y="400.13" width="21.5" height="17.09" fill="#6db2d4"/>
<rect x="478.7" y="400.13" width="21.5" height="17.09" fill="#d4e4ed"/>
<rect x="499.6" y="400.13" width="21.5" height="17.09" fill="#dde8ee"/>
<rect x="520.5" y="400.13" width="21.5" height="17.09" fill="#f1e8e2"/>
<rect x="541.4" y="400.13" width="21.5" height="17.09" fill="#c9dfeb"/>
<rect x="562.3" y="400.13" width="21.5" height="17.09" fill="#f2e0d5"/>
<rect x="583.2" y="400.13" width="21.5" height="17.09" fill="#f2ded1"/>
<rect x="604.1" y="400.13" width="21.5" height="17.09" fill="#f0ecea"/>
<rect x="625" y="400.13" width="20.9" height="17.09" fill="#dfe9ee"/>
<rect x="395.1" y="416.62" width="21.5" height="17.09" fill="#f1e7e1"/>
<rect x="416" y="416.62" width="21.5" height="17.09" fill="#eff0f1"/>
<rect x="436.9" y="416.62" width="21.5" height="17.09" fill="#d9e6ed"/>
<rect x="457.8" y="416.62" width="21.5" height="17.09" fill="#acd2e4"/>
<rect x="478.7" y="416.62" width="21.5" height="17.09" fill="#d4e4ed"/>
<rect x="499.6" y="416.62" width="21.5" height="17.09" fill="#eff0f1"/>
<rect x="520.5" y="416.62" width="21.5" height="17.09" fill="#f4d6c4"/>
<rect x="541.4" y="416.62" width="21.5" height="17.09" fill="#d5e5ed"/>
<rect x="562.3" y="416.62" width="21.5" height="17.09" fill="#f3d8c8"/>
<rect x="583.2" y="416.62" width="21.5" height="17.09" fill="#f1e7e1"/>
<rect x="604.1" y="416.62" width="21.5" height="17.09" fill="#f2e2d9"/>
<rect x="625" y="416.62" width="20.9" height="17.09" fill="#e48c70"/>
<rect x="395.1" y="433.11" width="21.5" height="16.49" fill="#efeff0"/>
<rect x="416" y="433.11" width="21.5" height="16.49" fill="#efeff0"/>
<rect x="436.9" y="433.11" width="21.5" height="16.49" fill="#efeff0"/>
<rect x="457.8" y="433.11" width="21.5" height="16.49" fill="#efeff0"/>
<rect x="478.7" y="433.11" width="21.5" height="16.49" fill="#efeff0"/>
<rect x="499.6" y="433.11" width="21.5" height="16.49" fill="#efeff0"/>
<rect x="520.5" y="433.11" width="21.5" height="16.49" fill="#efeff0"/>
<rect x="541.4" y="433.11" width="21.5" height="16.49" fill="#efeff0"/>
<rect x="562.3" y="433.11" width="21.5" height="16.49" fill="#efeff0"/>
<rect x="583.2" y="433.11" width="21.5" height="16.49" fill="#efeff0"/>
<rect x="604.1" y="433.11" width="21.5" height="16.49" fill="#efeff0"/>
<rect x="625" y="433.11" width="20.9" height="16.49" fill="#efeff0"/>
<rect x="661.3" y="268.2" width="9.3" height="181.4" fill="url(#g3)"/>
</g><g stroke="#555" stroke-width="0.45">
<line x1="35.1" y1="20.47" x2="36.6" y2="20.47"/>
<line x1="35.1" y1="37.22" x2="36.6" y2="37.22"/>
<line x1="35.1" y1="53.96" x2="36.6" y2="53.96"/>
<line x1="35.1" y1="70.71" x2="36.6" y2="70.71"/>
<line x1="35.1" y1="87.45" x2="36.6" y2="87.45"/>
<line x1="35.1" y1="104.2" x2="36.6" y2="104.2"/>
<line x1="35.1" y1="120.95" x2="36.6" y2="120.95"/>
<line x1="35.1" y1="137.69" x2="36.6" y2="137.69"/>
<line x1="35.1" y1="154.44" x2="36.6" y2="154.44"/>
<line x1="35.1" y1="171.18" x2="36.6" y2="171.18"/>
<line x1="35.1" y1="187.93" x2="36.6" y2="187.93"/>
<line x1="50.53" y1="196.3" x2="50.53" y2="197.8"/>
<line x1="78.4" y1="196.3" x2="78.4" y2="197.8"/>
<line x1="106.27" y1="196.3" x2="106.27" y2="197.8"/>
<line x1="134.13" y1="196.3" x2="134.13" y2="197.8"/>
<line x1="162" y1="196.3" x2="162" y2="197.8"/>
<line x1="189.87" y1="196.3" x2="189.87" y2="197.8"/>
<line x1="217.73" y1="196.3" x2="217.73" y2="197.8"/>
<line x1="245.6" y1="196.3" x2="245.6" y2="197.8"/>
<line x1="273.47" y1="196.3" x2="273.47" y2="197.8"/>
<line x1="312.4" y1="12.1" x2="313.8" y2="12.1"/>
<line x1="312.4" y1="35.12" x2="313.8" y2="35.12"/>
<line x1="312.4" y1="58.15" x2="313.8" y2="58.15"/>
<line x1="312.4" y1="81.17" x2="313.8" y2="81.17"/>
<line x1="312.4" y1="104.2" x2="313.8" y2="104.2"/>
<line x1="312.4" y1="127.23" x2="313.8" y2="127.23"/>
<line x1="312.4" y1="150.25" x2="313.8" y2="150.25"/>
<line x1="312.4" y1="173.28" x2="313.8" y2="173.28"/>
<line x1="312.4" y1="196.3" x2="313.8" y2="196.3"/>
<line x1="393.4" y1="20.32" x2="394.9" y2="20.32"/>
<line x1="393.4" y1="36.97" x2="394.9" y2="36.97"/>
<line x1="393.4" y1="53.61" x2="394.9" y2="53.61"/>
<line x1="393.4" y1="70.26" x2="394.9" y2="70.26"/>
<line x1="393.4" y1="86.9" x2="394.9" y2="86.9"/>
<line x1="393.4" y1="103.55" x2="394.9" y2="103.55"/>
<line x1="393.4" y1="120.2" x2="394.9" y2="120.2"/>
<line x1="393.4" y1="136.84" x2="394.9" y2="136.84"/>
<line x1="393.4" y1="153.49" x2="394.9" y2="153.49"/>
<line x1="393.4" y1="170.13" x2="394.9" y2="170.13"/>
<line x1="393.4" y1="186.78" x2="394.9" y2="186.78"/>
<line x1="407.44" y1="195.1" x2="407.44" y2="196.6"/>
<line x1="432.52" y1="195.1" x2="432.52" y2="196.6"/>
<line x1="457.6" y1="195.1" x2="457.6" y2="196.6"/>
<line x1="482.68" y1="195.1" x2="482.68" y2="196.6"/>
<line x1="507.76" y1="195.1" x2="507.76" y2="196.6"/>
<line x1="532.84" y1="195.1" x2="532.84" y2="196.6"/>
<line x1="557.92" y1="195.1" x2="557.92" y2="196.6"/>
<line x1="583" y1="195.1" x2="583" y2="196.6"/>
<line x1="608.08" y1="195.1" x2="608.08" y2="196.6"/>
<line x1="633.16" y1="195.1" x2="633.16" y2="196.6"/>
<line x1="670.8" y1="12" x2="672.2" y2="12"/>
<line x1="670.8" y1="34.89" x2="672.2" y2="34.89"/>
<line x1="670.8" y1="57.77" x2="672.2" y2="57.77"/>
<line x1="670.8" y1="80.66" x2="672.2" y2="80.66"/>
<line x1="670.8" y1="103.55" x2="672.2" y2="103.55"/>
<line x1="670.8" y1="126.44" x2="672.2" y2="126.44"/>
<line x1="670.8" y1="149.32" x2="672.2" y2="149.32"/>
<line x1="670.8" y1="172.21" x2="672.2" y2="172.21"/>
<line x1="670.8" y1="195.1" x2="672.2" y2="195.1"/>
<line x1="35.2" y1="276.54" x2="36.7" y2="276.54"/>
<line x1="35.2" y1="293.22" x2="36.7" y2="293.22"/>
<line x1="35.2" y1="309.9" x2="36.7" y2="309.9"/>
<line x1="35.2" y1="326.59" x2="36.7" y2="326.59"/>
<line x1="35.2" y1="343.27" x2="36.7" y2="343.27"/>
<line x1="35.2" y1="359.95" x2="36.7" y2="359.95"/>
<line x1="35.2" y1="376.63" x2="36.7" y2="376.63"/>
<line x1="35.2" y1="393.31" x2="36.7" y2="393.31"/>
<line x1="35.2" y1="410" x2="36.7" y2="410"/>
<line x1="35.2" y1="426.68" x2="36.7" y2="426.68"/>
<line x1="35.2" y1="443.36" x2="36.7" y2="443.36"/>
<line x1="49.22" y1="451.7" x2="49.22" y2="453.2"/>
<line x1="74.26" y1="451.7" x2="74.26" y2="453.2"/>
<line x1="99.3" y1="451.7" x2="99.3" y2="453.2"/>
<line x1="124.34" y1="451.7" x2="124.34" y2="453.2"/>
<line x1="149.38" y1="451.7" x2="149.38" y2="453.2"/>
<line x1="174.42" y1="451.7" x2="174.42" y2="453.2"/>
<line x1="199.46" y1="451.7" x2="199.46" y2="453.2"/>
<line x1="224.5" y1="451.7" x2="224.5" y2="453.2"/>
<line x1="249.54" y1="451.7" x2="249.54" y2="453.2"/>
<line x1="274.58" y1="451.7" x2="274.58" y2="453.2"/>
<line x1="312.2" y1="268.2" x2="313.6" y2="268.2"/>
<line x1="312.2" y1="291.14" x2="313.6" y2="291.14"/>
<line x1="312.2" y1="314.07" x2="313.6" y2="314.07"/>
<line x1="312.2" y1="337.01" x2="313.6" y2="337.01"/>
<line x1="312.2" y1="359.95" x2="313.6" y2="359.95"/>
<line x1="312.2" y1="382.89" x2="313.6" y2="382.89"/>
<line x1="312.2" y1="405.82" x2="313.6" y2="405.82"/>
<line x1="312.2" y1="428.76" x2="313.6" y2="428.76"/>
<line x1="312.2" y1="451.7" x2="313.6" y2="451.7"/>
<line x1="393.6" y1="276.45" x2="395.1" y2="276.45"/>
<line x1="393.6" y1="292.94" x2="395.1" y2="292.94"/>
<line x1="393.6" y1="309.43" x2="395.1" y2="309.43"/>
<line x1="393.6" y1="325.92" x2="395.1" y2="325.92"/>
<line x1="393.6" y1="342.41" x2="395.1" y2="342.41"/>
<line x1="393.6" y1="358.9" x2="395.1" y2="358.9"/>
<line x1="393.6" y1="375.39" x2="395.1" y2="375.39"/>
<line x1="393.6" y1="391.88" x2="395.1" y2="391.88"/>
<line x1="393.6" y1="408.37" x2="395.1" y2="408.37"/>
<line x1="393.6" y1="424.86" x2="395.1" y2="424.86"/>
<line x1="393.6" y1="441.35" x2="395.1" y2="441.35"/>
<line x1="405.55" y1="449.6" x2="405.55" y2="451.1"/>
<line x1="426.45" y1="449.6" x2="426.45" y2="451.1"/>
<line x1="447.35" y1="449.6" x2="447.35" y2="451.1"/>
<line x1="468.25" y1="449.6" x2="468.25" y2="451.1"/>
<line x1="489.15" y1="449.6" x2="489.15" y2="451.1"/>
<line x1="510.05" y1="449.6" x2="510.05" y2="451.1"/>
<line x1="530.95" y1="449.6" x2="530.95" y2="451.1"/>
<line x1="551.85" y1="449.6" x2="551.85" y2="451.1"/>
<line x1="572.75" y1="449.6" x2="572.75" y2="451.1"/>
<line x1="593.65" y1="449.6" x2="593.65" y2="451.1"/>
<line x1="614.55" y1="449.6" x2="614.55" y2="451.1"/>
<line x1="635.45" y1="449.6" x2="635.45" y2="451.1"/>
<line x1="670.6" y1="268.2" x2="672" y2="268.2"/>
<line x1="670.6" y1="290.88" x2="672" y2="290.88"/>
<line x1="670.6" y1="313.55" x2="672" y2="313.55"/>
<line x1="670.6" y1="336.23" x2="672" y2="336.23"/>
<line x1="670.6" y1="358.9" x2="672" y2="358.9"/>
<line x1="670.6" y1="381.58" x2="672" y2="381.58"/>
<line x1="670.6" y1="404.25" x2="672" y2="404.25"/>
<line x1="670.6" y1="426.93" x2="672" y2="426.93"/>
<line x1="670.6" y1="449.6" x2="672" y2="449.6"/>
</g></svg>
<div id="t">
<div class="lt" style="left:10.4px;top:2.5px">A</div>
<div class="tt" style="left:162px;top:0.85px">Participant 1</div>
<div class="a" style="left:50.53px;top:20.97px">0.18</div>
<div class="a" style="left:78.4px;top:20.97px">0.33**</div>
<div class="a" style="left:106.27px;top:20.97px">-0.17</div>
<div class="a" style="left:134.13px;top:20.97px">0.13</div>
<div class="a" style="left:162px;top:20.97px">0.17</div>
<div class="a" style="left:189.87px;top:20.97px">-0.21</div>
<div class="a" style="left:217.73px;top:20.97px">-0.14</div>
<div class="a" style="left:245.6px;top:20.97px">0.15</div>
<div class="a" style="left:273.47px;top:20.97px">0.12</div>
<div class="a" style="left:50.53px;top:37.72px">-0.01</div>
<div class="a" style="left:78.4px;top:37.72px">-0.08</div>
<div class="a" style="left:106.27px;top:37.72px">-0.17</div>
<div class="a" style="left:134.13px;top:37.72px">-0.25*</div>
<div class="a" style="left:162px;top:37.72px">-0.03</div>
<div class="a" style="left:189.87px;top:37.72px;color:#f4f4f4">0.65***</div>
<div class="a" style="left:217.73px;top:37.72px">0.06</div>
<div class="a" style="left:245.6px;top:37.72px">-0.27*</div>
<div class="a" style="left:273.47px;top:37.72px">-0.04</div>
<div class="a" style="left:50.53px;top:54.46px">-0.25*</div>
<div class="a" style="left:78.4px;top:54.46px">-0.28*</div>
<div class="a" style="left:106.27px;top:54.46px">0.1</div>
<div class="a" style="left:134.13px;top:54.46px">-0.32**</div>
<div class="a" style="left:162px;top:54.46px">-0.01</div>
<div class="a" style="left:189.87px;top:54.46px;color:#f4f4f4">0.56***</div>
<div class="a" style="left:217.73px;top:54.46px">-0.01</div>
<div class="a" style="left:245.6px;top:54.46px">-0.31*</div>
<div class="a" style="left:273.47px;top:54.46px">0.02</div>
<div class="a" style="left:50.53px;top:71.21px">0.02</div>
<div class="a" style="left:78.4px;top:71.21px">-0.05</div>
<div class="a" style="left:106.27px;top:71.21px">-0.21</div>
<div class="a" style="left:134.13px;top:71.21px">-0.23</div>
<div class="a" style="left:162px;top:71.21px">-0.14</div>
<div class="a" style="left:189.87px;top:71.21px;color:#f4f4f4">0.51***</div>
<div class="a" style="left:217.73px;top:71.21px">0.01</div>
<div class="a" style="left:245.6px;top:71.21px">-0.37**</div>
<div class="a" style="left:273.47px;top:71.21px">-0.14</div>
<div class="a" style="left:50.53px;top:87.95px">-0.2</div>
<div class="a" style="left:78.4px;top:87.95px">-0.21</div>
<div class="a" style="left:106.27px;top:87.95px">0.05</div>
<div class="a" style="left:134.13px;top:87.95px">-0.37**</div>
<div class="a" style="left:162px;top:87.95px">0.04</div>
<div class="a" style="left:189.87px;top:87.95px;color:#f4f4f4">0.49***</div>
<div class="a" style="left:217.73px;top:87.95px">0.02</div>
<div class="a" style="left:245.6px;top:87.95px">-0.34**</div>
<div class="a" style="left:273.47px;top:87.95px">0.09</div>
<div class="a" style="left:50.53px;top:104.7px">0.14</div>
<div class="a" style="left:78.4px;top:104.7px">0.22</div>
<div class="a" style="left:106.27px;top:104.7px">0.44**</div>
<div class="a" style="left:134.13px;top:104.7px">0.16</div>
<div class="a" style="left:162px;top:104.7px">-0.07</div>
<div class="a" style="left:189.87px;top:104.7px">-0.34*</div>
<div class="a" style="left:217.73px;top:104.7px">-0.12</div>
<div class="a" style="left:245.6px;top:104.7px">0.24</div>
<div class="a" style="left:273.47px;top:104.7px">-0.07</div>
<div class="a" style="left:50.53px;top:121.45px">0.27</div>
<div class="a" style="left:78.4px;top:121.45px">0.01</div>
<div class="a" style="left:106.27px;top:121.45px">0.21</div>
<div class="a" style="left:134.13px;top:121.45px">0.12</div>
<div class="a" style="left:162px;top:121.45px">0.06</div>
<div class="a" style="left:189.87px;top:121.45px">-0.18</div>
<div class="a" style="left:217.73px;top:121.45px">-0.02</div>
<div class="a" style="left:245.6px;top:121.45px">0.07</div>
<div class="a" style="left:273.47px;top:121.45px">0.07</div>
<div class="a" style="left:50.53px;top:138.19px">0.38*</div>
<div class="a" style="left:78.4px;top:138.19px">0.3</div>
<div class="a" style="left:106.27px;top:138.19px">0.38*</div>
<div class="a" style="left:134.13px;top:138.19px">0.13</div>
<div class="a" style="left:162px;top:138.19px">-0.37*</div>
<div class="a" style="left:189.87px;top:138.19px">-0.21</div>
<div class="a" style="left:217.73px;top:138.19px">-0.05</div>
<div class="a" style="left:245.6px;top:138.19px">0.17</div>
<div class="a" style="left:273.47px;top:138.19px">-0.4*</div>
<div class="a" style="left:50.53px;top:154.94px">0.18</div>
<div class="a" style="left:78.4px;top:154.94px">-0.06</div>
<div class="a" style="left:106.27px;top:154.94px">0.0</div>
<div class="a" style="left:134.13px;top:154.94px">0.08</div>
<div class="a" style="left:162px;top:154.94px">-0.15</div>
<div class="a" style="left:189.87px;top:154.94px">0.22</div>
<div class="a" style="left:217.73px;top:154.94px">0.19</div>
<div class="a" style="left:245.6px;top:154.94px">0.04</div>
<div class="a" style="left:273.47px;top:154.94px">-0.16</div>
<div class="a" style="left:50.53px;top:171.68px">-0.24</div>
<div class="a" style="left:78.4px;top:171.68px">-0.07</div>
<div class="a" style="left:106.27px;top:171.68px">-0.1</div>
<div class="a" style="left:134.13px;top:171.68px">0.01</div>
<div class="a" style="left:162px;top:171.68px">-0.06</div>
<div class="a" style="left:189.87px;top:171.68px;color:#f4f4f4">0.59***</div>
<div class="a" style="left:217.73px;top:171.68px">0.38*</div>
<div class="a" style="left:245.6px;top:171.68px">-0.44**</div>
<div class="a" style="left:273.47px;top:171.68px">-0.04</div>
<div class="a" style="left:50.53px;top:188.43px">-0.24</div>
<div class="a" style="left:78.4px;top:188.43px">-0.07</div>
<div class="a" style="left:106.27px;top:188.43px">-0.1</div>
<div class="a" style="left:134.13px;top:188.43px">0.01</div>
<div class="a" style="left:162px;top:188.43px">-0.06</div>
<div class="a" style="left:189.87px;top:188.43px;color:#f4f4f4">0.59***</div>
<div class="a" style="left:217.73px;top:188.43px">0.38*</div>
<div class="a" style="left:245.6px;top:188.43px">-0.44**</div>
<div class="a" style="left:273.47px;top:188.43px">-0.04</div>
<div class="yl" style="left:34px;top:21.07px">Happiness</div>
<div class="yl" style="left:34px;top:37.82px">Sadness</div>
<div class="yl" style="left:34px;top:54.56px">Anxiety</div>
<div class="yl" style="left:34px;top:71.31px">Anger</div>
<div class="yl" style="left:34px;top:88.05px">Stress</div>
<div class="yl" style="left:34px;top:104.8px">Quality time</div>
<div class="yl" style="left:34px;top:121.55px">Closeness</div>
<div class="yl" style="left:34px;top:138.29px">Pos. interaction</div>
<div class="yl" style="left:34px;top:155.04px">Neg. interaction</div>
<div class="yl" style="left:34px;top:171.78px">Conflict</div>
<div class="yl" style="left:34px;top:188.53px">Aggression</div>
<div class="xl" style="left:50.53px;top:209.82px">Acceleration in X</div>
<div class="xl" style="left:78.4px;top:209.8px">Acceleration in Y</div>
<div class="xl" style="left:106.27px;top:209.76px">Acceleration in Z</div>
<div class="xl" style="left:134.13px;top:209.05px">Gyroscope in X</div>
<div class="xl" style="left:162px;top:209.03px">Gyroscope in Y</div>
<div class="xl" style="left:189.87px;top:208.99px">Gyroscope in Z</div>
<div class="xl" style="left:217.73px;top:208.18px">Time at home</div>
<div class="xl" style="left:245.6px;top:209.88px">Proximity to child</div>
<div class="xl" style="left:273.47px;top:208.75px">Time with child</div>
<div class="cl" style="left:314.4px;top:12.7px">1.00</div>
<div class="cl" style="left:314.4px;top:35.73px">0.75</div>
<div class="cl" style="left:314.4px;top:58.75px">0.50</div>
<div class="cl" style="left:314.4px;top:81.77px">0.25</div>
<div class="cl" style="left:314.4px;top:104.8px">0.00</div>
<div class="cl" style="left:314.4px;top:127.83px">−0.25</div>
<div class="cl" style="left:314.4px;top:150.85px">−0.50</div>
<div class="cl" style="left:314.4px;top:173.88px">−0.75</div>
<div class="cl" style="left:314.4px;top:196.9px">−1.00</div>
<div class="lt" style="left:365px;top:2.5px">B</div>
<div class="tt" style="left:520.3px;top:0.85px">Participant 2</div>
<div class="a" style="left:407.44px;top:20.82px">0.02</div>
<div class="a" style="left:432.52px;top:20.82px">0.13</div>
<div class="a" style="left:457.6px;top:20.82px">-0.07</div>
<div class="a" style="left:482.68px;top:20.82px">-0.04</div>
<div class="a" style="left:507.76px;top:20.82px">0.4*</div>
<div class="a" style="left:532.84px;top:20.82px">-0.05</div>
<div class="a" style="left:557.92px;top:20.82px;color:#f4f4f4">0.55*</div>
<div class="a" style="left:583px;top:20.82px">-0.44**</div>
<div class="a" style="left:608.08px;top:20.82px;color:#f4f4f4">-0.46**</div>
<div class="a" style="left:633.16px;top:20.82px">0.36*</div>
<div class="a" style="left:407.44px;top:37.47px">0.12</div>
<div class="a" style="left:432.52px;top:37.47px">0.13</div>
<div class="a" style="left:457.6px;top:37.47px">0.06</div>
<div class="a" style="left:482.68px;top:37.47px">0.2</div>
<div class="a" style="left:507.76px;top:37.47px;color:#f4f4f4">-0.5***</div>
<div class="a" style="left:532.84px;top:37.47px">-0.07</div>
<div class="a" style="left:557.92px;top:37.47px">-0.36</div>
<div class="a" style="left:583px;top:37.47px;color:#f4f4f4">0.73***</div>
<div class="a" style="left:608.08px;top:37.47px;color:#f4f4f4">0.74***</div>
<div class="a" style="left:633.16px;top:37.47px">-0.43*</div>
<div class="a" style="left:407.44px;top:54.11px">-0.07</div>
<div class="a" style="left:432.52px;top:54.11px">0.07</div>
<div class="a" style="left:457.6px;top:54.11px">0.3</div>
<div class="a" style="left:482.68px;top:54.11px">-0.07</div>
<div class="a" style="left:507.76px;top:54.11px">0.12</div>
<div class="a" style="left:532.84px;top:54.11px">0.03</div>
<div class="a" style="left:557.92px;top:54.11px">-0.16</div>
<div class="a" style="left:583px;top:54.11px">0.01</div>
<div class="a" style="left:608.08px;top:54.11px">0.02</div>
<div class="a" style="left:633.16px;top:54.11px">-0.15</div>
<div class="a" style="left:407.44px;top:70.76px">-0.05</div>
<div class="a" style="left:432.52px;top:70.76px">0.14</div>
<div class="a" style="left:457.6px;top:70.76px">0.03</div>
<div class="a" style="left:482.68px;top:70.76px">-0.12</div>
<div class="a" style="left:507.76px;top:70.76px;color:#f4f4f4">-0.44**</div>
<div class="a" style="left:532.84px;top:70.76px">-0.03</div>
<div class="a" style="left:557.92px;top:70.76px">-0.24</div>
<div class="a" style="left:583px;top:70.76px;color:#f4f4f4">0.53***</div>
<div class="a" style="left:608.08px;top:70.76px;color:#f4f4f4">0.53***</div>
<div class="a" style="left:633.16px;top:70.76px">-0.16</div>
<div class="a" style="left:407.44px;top:87.4px">-0.32*</div>
<div class="a" style="left:432.52px;top:87.4px">-0.07</div>
<div class="a" style="left:457.6px;top:87.4px">0.07</div>
<div class="a" style="left:482.68px;top:87.4px">-0.19</div>
<div class="a" style="left:507.76px;top:87.4px">-0.03</div>
<div class="a" style="left:532.84px;top:87.4px">0.16</div>
<div class="a" style="left:557.92px;top:87.4px">-0.2</div>
<div class="a" style="left:583px;top:87.4px">0.25</div>
<div class="a" style="left:608.08px;top:87.4px">0.23</div>
<div class="a" style="left:633.16px;top:87.4px">-0.1</div>
<div class="a" style="left:407.44px;top:104.05px">0.18</div>
<div class="a" style="left:432.52px;top:104.05px;color:#f4f4f4">0.62***</div>
<div class="a" style="left:457.6px;top:104.05px">-0.11</div>
<div class="a" style="left:482.68px;top:104.05px">0.23</div>
<div class="a" style="left:507.76px;top:104.05px">0.46**</div>
<div class="a" style="left:532.84px;top:104.05px">0.27</div>
<div class="a" style="left:557.92px;top:104.05px">0.26</div>
<div class="a" style="left:583px;top:104.05px">-0.07</div>
<div class="a" style="left:608.08px;top:104.05px">-0.09</div>
<div class="a" style="left:633.16px;top:104.05px">0.31</div>
<div class="a" style="left:407.44px;top:120.7px">-0.15</div>
<div class="a" style="left:432.52px;top:120.7px;color:#f4f4f4">0.6***</div>
<div class="a" style="left:457.6px;top:120.7px">-0.11</div>
<div class="a" style="left:482.68px;top:120.7px">0.01</div>
<div class="a" style="left:507.76px;top:120.7px;color:#f4f4f4">0.48**</div>
<div class="a" style="left:532.84px;top:120.7px">0.3</div>
<div class="a" style="left:557.92px;top:120.7px">-0.01</div>
<div class="a" style="left:583px;top:120.7px">-0.07</div>
<div class="a" style="left:608.08px;top:120.7px">-0.08</div>
<div class="a" style="left:633.16px;top:120.7px">0.12</div>
<div class="a" style="left:407.44px;top:137.34px">-0.1</div>
<div class="a" style="left:432.52px;top:137.34px;color:#f4f4f4">0.52**</div>
<div class="a" style="left:457.6px;top:137.34px">0.04</div>
<div class="a" style="left:482.68px;top:137.34px">-0.05</div>
<div class="a" style="left:507.76px;top:137.34px">0.42*</div>
<div class="a" style="left:532.84px;top:137.34px">0.16</div>
<div class="a" style="left:557.92px;top:137.34px">-0.09</div>
<div class="a" style="left:583px;top:137.34px">-0.31</div>
<div class="a" style="left:608.08px;top:137.34px">-0.31</div>
<div class="a" style="left:633.16px;top:137.34px">0.24</div>
<div class="a" style="left:407.44px;top:153.99px">0.14</div>
<div class="a" style="left:432.52px;top:153.99px">-0.11</div>
<div class="a" style="left:457.6px;top:153.99px">0.2</div>
<div class="a" style="left:482.68px;top:153.99px">0.35*</div>
<div class="a" style="left:507.76px;top:153.99px">-0.1</div>
<div class="a" style="left:532.84px;top:153.99px">-0.13</div>
<div class="a" style="left:557.92px;top:153.99px">-0.18</div>
<div class="a" style="left:583px;top:153.99px;color:#f4f4f4">0.5***</div>
<div class="a" style="left:608.08px;top:153.99px;color:#f4f4f4">0.5***</div>
<div class="a" style="left:633.16px;top:153.99px;color:#f4f4f4">-0.49**</div>
<div class="a" style="left:407.44px;top:170.63px">0.15</div>
<div class="a" style="left:432.52px;top:170.63px">-0.1</div>
<div class="a" style="left:457.6px;top:170.63px">0.3</div>
<div class="a" style="left:482.68px;top:170.63px">0.31</div>
<div class="a" style="left:507.76px;top:170.63px">-0.13</div>
<div class="a" style="left:532.84px;top:170.63px">-0.11</div>
<div class="a" style="left:557.92px;top:170.63px">-0.19</div>
<div class="a" style="left:583px;top:170.63px">0.47**</div>
<div class="a" style="left:608.08px;top:170.63px;color:#f4f4f4">0.45**</div>
<div class="a" style="left:633.16px;top:170.63px;color:#f4f4f4">-0.48**</div>
<div class="a" style="left:407.44px;top:187.28px">-0.02</div>
<div class="a" style="left:432.52px;top:187.28px">0.01</div>
<div class="a" style="left:457.6px;top:187.28px">0.0</div>
<div class="a" style="left:482.68px;top:187.28px">0.01</div>
<div class="a" style="left:507.76px;top:187.28px">0.02</div>
<div class="a" style="left:532.84px;top:187.28px;color:#f4f4f4">-0.67***</div>
<div class="a" style="left:557.92px;top:187.28px">-0.43</div>
<div class="a" style="left:583px;top:187.28px">-0.07</div>
<div class="a" style="left:608.08px;top:187.28px">-0.06</div>
<div class="a" style="left:633.16px;top:187.28px">-0.36</div>
<div class="yl" style="left:392.3px;top:20.92px">Happiness</div>
<div class="yl" style="left:392.3px;top:37.57px">Sadness</div>
<div class="yl" style="left:392.3px;top:54.21px">Anxiety</div>
<div class="yl" style="left:392.3px;top:70.86px">Anger</div>
<div class="yl" style="left:392.3px;top:87.5px">Stress</div>
<div class="yl" style="left:392.3px;top:104.15px">Quality time</div>
<div class="yl" style="left:392.3px;top:120.8px">Closeness</div>
<div class="yl" style="left:392.3px;top:137.44px">Pos. interaction</div>
<div class="yl" style="left:392.3px;top:154.09px">Neg. interaction</div>
<div class="yl" style="left:392.3px;top:170.73px">Conflict</div>
<div class="yl" style="left:392.3px;top:187.38px">Aggression</div>
<div class="xl" style="left:407.44px;top:208.92px">Acceleration in X</div>
<div class="xl" style="left:432.52px;top:208.9px">Acceleration in Y</div>
<div class="xl" style="left:457.6px;top:208.86px">Acceleration in Z</div>
<div class="xl" style="left:482.68px;top:208.15px">Gyroscope in X</div>
<div class="xl" style="left:507.76px;top:208.13px">Gyroscope in Y</div>
<div class="xl" style="left:532.84px;top:208.09px">Gyroscope in Z</div>
<div class="xl" style="left:557.92px;top:209.49px">Proximity to home</div>
<div class="xl" style="left:583px;top:207.28px">Time at home</div>
<div class="xl" style="left:608.08px;top:208.98px">Proximity to child</div>
<div class="xl" style="left:633.16px;top:207.85px">Time with child</div>
<div class="cl" style="left:672.8px;top:12.6px">1.00</div>
<div class="cl" style="left:672.8px;top:35.49px">0.75</div>
<div class="cl" style="left:672.8px;top:58.38px">0.50</div>
<div class="cl" style="left:672.8px;top:81.26px">0.25</div>
<div class="cl" style="left:672.8px;top:104.15px">0.00</div>
<div class="cl" style="left:672.8px;top:127.04px">−0.25</div>
<div class="cl" style="left:672.8px;top:149.92px">−0.50</div>
<div class="cl" style="left:672.8px;top:172.81px">−0.75</div>
<div class="cl" style="left:672.8px;top:195.7px">−1.00</div>
<div class="lt" style="left:10px;top:258.2px">C</div>
<div class="tt" style="left:161.9px;top:257.05px">Participant 3</div>
<div class="a" style="left:49.22px;top:277.04px">0.24*</div>
<div class="a" style="left:74.26px;top:277.04px">0.22</div>
<div class="a" style="left:99.3px;top:277.04px">-0.06</div>
<div class="a" style="left:124.34px;top:277.04px">-0.01</div>
<div class="a" style="left:149.38px;top:277.04px">0.2</div>
<div class="a" style="left:174.42px;top:277.04px">0.02</div>
<div class="a" style="left:199.46px;top:277.04px">-0.09</div>
<div class="a" style="left:224.5px;top:277.04px">-0.07</div>
<div class="a" style="left:249.54px;top:277.04px">-0.15</div>
<div class="a" style="left:274.58px;top:277.04px">0.15</div>
<div class="a" style="left:49.22px;top:293.72px">-0.19</div>
<div class="a" style="left:74.26px;top:293.72px">0.03</div>
<div class="a" style="left:99.3px;top:293.72px">0.02</div>
<div class="a" style="left:124.34px;top:293.72px">-0.08</div>
<div class="a" style="left:149.38px;top:293.72px">0.3*</div>
<div class="a" style="left:174.42px;top:293.72px">-0.07</div>
<div class="a" style="left:199.46px;top:293.72px">0.29*</div>
<div class="a" style="left:224.5px;top:293.72px">0.08</div>
<div class="a" style="left:249.54px;top:293.72px">0.07</div>
<div class="a" style="left:274.58px;top:293.72px;color:#f4f4f4">0.64**</div>
<div class="a" style="left:49.22px;top:310.4px">-0.02</div>
<div class="a" style="left:74.26px;top:310.4px">0.0</div>
<div class="a" style="left:99.3px;top:310.4px">0.15</div>
<div class="a" style="left:124.34px;top:310.4px">-0.03</div>
<div class="a" style="left:149.38px;top:310.4px">0.41***</div>
<div class="a" style="left:174.42px;top:310.4px">-0.02</div>
<div class="a" style="left:199.46px;top:310.4px">0.12</div>
<div class="a" style="left:224.5px;top:310.4px">-0.12</div>
<div class="a" style="left:249.54px;top:310.4px">-0.31**</div>
<div class="a" style="left:274.58px;top:310.4px;color:#f4f4f4">0.59**</div>
<div class="a" style="left:49.22px;top:327.09px">-0.19</div>
<div class="a" style="left:74.26px;top:327.09px">-0.07</div>
<div class="a" style="left:99.3px;top:327.09px">0.14</div>
<div class="a" style="left:124.34px;top:327.09px">-0.06</div>
<div class="a" style="left:149.38px;top:327.09px">0.36**</div>
<div class="a" style="left:174.42px;top:327.09px">-0.06</div>
<div class="a" style="left:199.46px;top:327.09px">0.18</div>
<div class="a" style="left:224.5px;top:327.09px">-0.12</div>
<div class="a" style="left:249.54px;top:327.09px">-0.13</div>
<div class="a" style="left:274.58px;top:327.09px;color:#f4f4f4">0.84***</div>
<div class="a" style="left:49.22px;top:343.77px">-0.14</div>
<div class="a" style="left:74.26px;top:343.77px">-0.08</div>
<div class="a" style="left:99.3px;top:343.77px">0.12</div>
<div class="a" style="left:124.34px;top:343.77px">-0.01</div>
<div class="a" style="left:149.38px;top:343.77px">0.11</div>
<div class="a" style="left:174.42px;top:343.77px">0.0</div>
<div class="a" style="left:199.46px;top:343.77px">0.0</div>
<div class="a" style="left:224.5px;top:343.77px">-0.2</div>
<div class="a" style="left:249.54px;top:343.77px;color:#f4f4f4">-0.45***</div>
<div class="a" style="left:274.58px;top:343.77px;color:#f4f4f4">0.56**</div>
<div class="a" style="left:49.22px;top:360.45px">0.01</div>
<div class="a" style="left:74.26px;top:360.45px">0.24</div>
<div class="a" style="left:99.3px;top:360.45px">-0.26</div>
<div class="a" style="left:124.34px;top:360.45px">-0.05</div>
<div class="a" style="left:149.38px;top:360.45px">0.23</div>
<div class="a" style="left:174.42px;top:360.45px">-0.05</div>
<div class="a" style="left:199.46px;top:360.45px">0.26</div>
<div class="a" style="left:224.5px;top:360.45px">0.13</div>
<div class="a" style="left:249.54px;top:360.45px">0.29*</div>
<div class="a" style="left:274.58px;top:360.45px">-0.1</div>
<div class="a" style="left:49.22px;top:377.13px">0.18</div>
<div class="a" style="left:74.26px;top:377.13px">0.09</div>
<div class="a" style="left:99.3px;top:377.13px">-0.16</div>
<div class="a" style="left:124.34px;top:377.13px">-0.16</div>
<div class="a" style="left:149.38px;top:377.13px">-0.02</div>
<div class="a" style="left:174.42px;top:377.13px">-0.15</div>
<div class="a" style="left:199.46px;top:377.13px">0.39***</div>
<div class="a" style="left:224.5px;top:377.13px">0.39***</div>
<div class="a" style="left:249.54px;top:377.13px">0.23</div>
<div class="a" style="left:274.58px;top:377.13px;color:#f4f4f4">-0.52</div>
<div class="a" style="left:49.22px;top:393.81px">0.29*</div>
<div class="a" style="left:74.26px;top:393.81px">0.1</div>
<div class="a" style="left:99.3px;top:393.81px">-0.23</div>
<div class="a" style="left:124.34px;top:393.81px">-0.04</div>
<div class="a" style="left:149.38px;top:393.81px">0.25</div>
<div class="a" style="left:174.42px;top:393.81px">-0.04</div>
<div class="a" style="left:199.46px;top:393.81px">0.16</div>
<div class="a" style="left:224.5px;top:393.81px">0.29*</div>
<div class="a" style="left:249.54px;top:393.81px">0.2</div>
<div class="a" style="left:274.58px;top:393.81px">-0.11</div>
<div class="a" style="left:49.22px;top:410.5px">-0.23</div>
<div class="a" style="left:74.26px;top:410.5px">-0.11</div>
<div class="a" style="left:99.3px;top:410.5px">0.19</div>
<div class="a" style="left:124.34px;top:410.5px">-0.06</div>
<div class="a" style="left:149.38px;top:410.5px">0.04</div>
<div class="a" style="left:174.42px;top:410.5px">-0.06</div>
<div class="a" style="left:199.46px;top:410.5px">0.13</div>
<div class="a" style="left:224.5px;top:410.5px">-0.03</div>
<div class="a" style="left:249.54px;top:410.5px">-0.05</div>
<div class="a" style="left:274.58px;top:410.5px;color:#f4f4f4">0.79**</div>
<div class="a" style="left:49.22px;top:427.18px">-0.24</div>
<div class="a" style="left:74.26px;top:427.18px">-0.17</div>
<div class="a" style="left:99.3px;top:427.18px">0.13</div>
<div class="a" style="left:124.34px;top:427.18px">-0.06</div>
<div class="a" style="left:149.38px;top:427.18px">-0.09</div>
<div class="a" style="left:174.42px;top:427.18px">-0.06</div>
<div class="a" style="left:199.46px;top:427.18px">-0.01</div>
<div class="a" style="left:224.5px;top:427.18px">0.0</div>
<div class="a" style="left:249.54px;top:427.18px">0.0</div>
<div class="a" style="left:274.58px;top:427.18px;color:#f4f4f4">0.69*</div>
<div class="yl" style="left:34.1px;top:277.14px">Happiness</div>
<div class="yl" style="left:34.1px;top:293.82px">Sadness</div>
<div class="yl" style="left:34.1px;top:310.5px">Anxiety</div>
<div class="yl" style="left:34.1px;top:327.19px">Anger</div>
<div class="yl" style="left:34.1px;top:343.87px">Stress</div>
<div class="yl" style="left:34.1px;top:360.55px">Quality time</div>
<div class="yl" style="left:34.1px;top:377.23px">Closeness</div>
<div class="yl" style="left:34.1px;top:393.91px">Pos. interaction</div>
<div class="yl" style="left:34.1px;top:410.6px">Neg. interaction</div>
<div class="yl" style="left:34.1px;top:427.28px">Conflict</div>
<div class="yl" style="left:34.1px;top:443.96px">Aggression</div>
<div class="xl" style="left:49.22px;top:465.22px">Acceleration in X</div>
<div class="xl" style="left:74.26px;top:465.2px">Acceleration in Y</div>
<div class="xl" style="left:99.3px;top:465.16px">Acceleration in Z</div>
<div class="xl" style="left:124.34px;top:464.45px">Gyroscope in X</div>
<div class="xl" style="left:149.38px;top:464.43px">Gyroscope in Y</div>
<div class="xl" style="left:174.42px;top:464.39px">Gyroscope in Z</div>
<div class="xl" style="left:199.46px;top:465.79px">Proximity to home</div>
<div class="xl" style="left:224.5px;top:463.58px">Time at home</div>
<div class="xl" style="left:249.54px;top:465.28px">Proximity to child</div>
<div class="xl" style="left:274.58px;top:464.15px">Time with child</div>
<div class="cl" style="left:314.2px;top:268.8px">1.00</div>
<div class="cl" style="left:314.2px;top:291.74px">0.75</div>
<div class="cl" style="left:314.2px;top:314.68px">0.50</div>
<div class="cl" style="left:314.2px;top:337.61px">0.25</div>
<div class="cl" style="left:314.2px;top:360.55px">0.00</div>
<div class="cl" style="left:314.2px;top:383.49px">−0.25</div>
<div class="cl" style="left:314.2px;top:406.43px">−0.50</div>
<div class="cl" style="left:314.2px;top:429.36px">−0.75</div>
<div class="cl" style="left:314.2px;top:452.3px">−1.00</div>
<div class="lt" style="left:373.8px;top:257.8px">D</div>
<div class="tt" style="left:520.5px;top:257.15px">Participant 4</div>
<div class="a" style="left:405.55px;top:276.95px">-0.03</div>
<div class="a" style="left:426.45px;top:276.95px">0.02</div>
<div class="a" style="left:447.35px;top:276.95px">0.16</div>
<div class="a" style="left:468.25px;top:276.95px">-0.19</div>
<div class="a" style="left:489.15px;top:276.95px">-0.24</div>
<div class="a" style="left:510.05px;top:276.95px">-0.25</div>
<div class="a" style="left:530.95px;top:276.95px">-0.03</div>
<div class="a" style="left:551.85px;top:276.95px">0.17</div>
<div class="a" style="left:572.75px;top:276.95px">-0.03</div>
<div class="a" style="left:593.65px;top:276.95px">0.17</div>
<div class="a" style="left:614.55px;top:276.95px">-0.31</div>
<div class="a" style="left:635.45px;top:276.95px">0.01</div>
<div class="a" style="left:405.55px;top:293.44px">-0.13</div>
<div class="a" style="left:426.45px;top:293.44px">-0.16</div>
<div class="a" style="left:447.35px;top:293.44px">0.26</div>
<div class="a" style="left:468.25px;top:293.44px">0.18</div>
<div class="a" style="left:489.15px;top:293.44px">0.04</div>
<div class="a" style="left:510.05px;top:293.44px">-0.12</div>
<div class="a" style="left:530.95px;top:293.44px">-0.06</div>
<div class="a" style="left:551.85px;top:293.44px">0.09</div>
<div class="a" style="left:572.75px;top:293.44px">0.09</div>
<div class="a" style="left:593.65px;top:293.44px">-0.04</div>
<div class="a" style="left:614.55px;top:293.44px">0.08</div>
<div class="a" style="left:635.45px;top:293.44px">-0.18</div>
<div class="a" style="left:405.55px;top:309.93px">-0.13</div>
<div class="a" style="left:426.45px;top:309.93px">-0.15</div>
<div class="a" style="left:447.35px;top:309.93px">0.04</div>
<div class="a" style="left:468.25px;top:309.93px">-0.02</div>
<div class="a" style="left:489.15px;top:309.93px">0.23</div>
<div class="a" style="left:510.05px;top:309.93px">0.04</div>
<div class="a" style="left:530.95px;top:309.93px">-0.3*</div>
<div class="a" style="left:551.85px;top:309.93px">0.36**</div>
<div class="a" style="left:572.75px;top:309.93px">0.17</div>
<div class="a" style="left:593.65px;top:309.93px">0.06</div>
<div class="a" style="left:614.55px;top:309.93px">-0.05</div>
<div class="a" style="left:635.45px;top:309.93px">-0.16</div>
<div class="a" style="left:405.55px;top:326.42px">-0.04</div>
<div class="a" style="left:426.45px;top:326.42px">-0.07</div>
<div class="a" style="left:447.35px;top:326.42px">0.15</div>
<div class="a" style="left:468.25px;top:326.42px">0.07</div>
<div class="a" style="left:489.15px;top:326.42px">0.24</div>
<div class="a" style="left:510.05px;top:326.42px">-0.03</div>
<div class="a" style="left:530.95px;top:326.42px">0.16</div>
<div class="a" style="left:551.85px;top:326.42px">0.03</div>
<div class="a" style="left:572.75px;top:326.42px">-0.02</div>
<div class="a" style="left:593.65px;top:326.42px">0.25</div>
<div class="a" style="left:614.55px;top:326.42px">0.15</div>
<div class="a" style="left:635.45px;top:326.42px">-0.12</div>
<div class="a" style="left:405.55px;top:342.91px">0.04</div>
<div class="a" style="left:426.45px;top:342.91px">-0.23</div>
<div class="a" style="left:447.35px;top:342.91px">-0.05</div>
<div class="a" style="left:468.25px;top:342.91px">-0.02</div>
<div class="a" style="left:489.15px;top:342.91px">0.22</div>
<div class="a" style="left:510.05px;top:342.91px">0.0</div>
<div class="a" style="left:530.95px;top:342.91px">-0.3*</div>
<div class="a" style="left:551.85px;top:342.91px">0.32*</div>
<div class="a" style="left:572.75px;top:342.91px">0.19</div>
<div class="a" style="left:593.65px;top:342.91px">0.19</div>
<div class="a" style="left:614.55px;top:342.91px">-0.05</div>
<div class="a" style="left:635.45px;top:342.91px">-0.17</div>
<div class="a" style="left:405.55px;top:359.4px">0.19</div>
<div class="a" style="left:426.45px;top:359.4px">0.23</div>
<div class="a" style="left:447.35px;top:359.4px">-0.39</div>
<div class="a" style="left:468.25px;top:359.4px">-0.29</div>
<div class="a" style="left:489.15px;top:359.4px">-0.24</div>
<div class="a" style="left:510.05px;top:359.4px">-0.14</div>
<div class="a" style="left:530.95px;top:359.4px">-0.1</div>
<div class="a" style="left:551.85px;top:359.4px">0.04</div>
<div class="a" style="left:572.75px;top:359.4px">0.1</div>
<div class="a" style="left:593.65px;top:359.4px">0.16</div>
<div class="a" style="left:614.55px;top:359.4px">0.27*</div>
<div class="a" style="left:635.45px;top:359.4px">0.42*</div>
<div class="a" style="left:405.55px;top:375.89px">-0.41</div>
<div class="a" style="left:426.45px;top:375.89px">0.22</div>
<div class="a" style="left:447.35px;top:375.89px">0.1</div>
<div class="a" style="left:468.25px;top:375.89px">-0.14</div>
<div class="a" style="left:489.15px;top:375.89px">-0.13</div>
<div class="a" style="left:510.05px;top:375.89px">-0.3</div>
<div class="a" style="left:530.95px;top:375.89px">0.11</div>
<div class="a" style="left:551.85px;top:375.89px">0.23</div>
<div class="a" style="left:572.75px;top:375.89px">0.13</div>
<div class="a" style="left:593.65px;top:375.89px">-0.05</div>
<div class="a" style="left:614.55px;top:375.89px">-0.24</div>
<div class="a" style="left:635.45px;top:375.89px">-0.43*</div>
<div class="a" style="left:405.55px;top:392.38px">0.13</div>
<div class="a" style="left:426.45px;top:392.38px">0.36</div>
<div class="a" style="left:447.35px;top:392.38px">-0.37</div>
<div class="a" style="left:468.25px;top:392.38px">-0.31</div>
<div class="a" style="left:489.15px;top:392.38px">-0.12</div>
<div class="a" style="left:510.05px;top:392.38px">-0.29</div>
<div class="a" style="left:530.95px;top:392.38px">-0.04</div>
<div class="a" style="left:551.85px;top:392.38px">0.01</div>
<div class="a" style="left:572.75px;top:392.38px">-0.01</div>
<div class="a" style="left:593.65px;top:392.38px">0.17</div>
<div class="a" style="left:614.55px;top:392.38px">0.22</div>
<div class="a" style="left:635.45px;top:392.38px">0.11</div>
<div class="a" style="left:405.55px;top:408.87px">-0.09</div>
<div class="a" style="left:426.45px;top:408.87px">-0.05</div>
<div class="a" style="left:447.35px;top:408.87px">0.19</div>
<div class="a" style="left:468.25px;top:408.87px">0.45*</div>
<div class="a" style="left:489.15px;top:408.87px">0.14</div>
<div class="a" style="left:510.05px;top:408.87px">0.09</div>
<div class="a" style="left:530.95px;top:408.87px">-0.06</div>
<div class="a" style="left:551.85px;top:408.87px">0.19</div>
<div class="a" style="left:572.75px;top:408.87px">-0.11</div>
<div class="a" style="left:593.65px;top:408.87px">-0.13</div>
<div class="a" style="left:614.55px;top:408.87px">-0.03</div>
<div class="a" style="left:635.45px;top:408.87px">0.08</div>
<div class="a" style="left:405.55px;top:425.36px">-0.07</div>
<div class="a" style="left:426.45px;top:425.36px">0.0</div>
<div class="a" style="left:447.35px;top:425.36px">0.11</div>
<div class="a" style="left:468.25px;top:425.36px">0.28</div>
<div class="a" style="left:489.15px;top:425.36px">0.14</div>
<div class="a" style="left:510.05px;top:425.36px">0.0</div>
<div class="a" style="left:530.95px;top:425.36px">-0.18</div>
<div class="a" style="left:551.85px;top:425.36px">0.13</div>
<div class="a" style="left:572.75px;top:425.36px">-0.17</div>
<div class="a" style="left:593.65px;top:425.36px">-0.07</div>
<div class="a" style="left:614.55px;top:425.36px">-0.1</div>
<div class="a" style="left:635.45px;top:425.36px;color:#f4f4f4">-0.45*</div>
<div class="yl" style="left:392.5px;top:277.05px">Happiness</div>
<div class="yl" style="left:392.5px;top:293.54px">Sadness</div>
<div class="yl" style="left:392.5px;top:310.03px">Anxiety</div>
<div class="yl" style="left:392.5px;top:326.52px">Anger</div>
<div class="yl" style="left:392.5px;top:343.01px">Stress</div>
<div class="yl" style="left:392.5px;top:359.5px">Quality time</div>
<div class="yl" style="left:392.5px;top:375.99px">Closeness</div>
<div class="yl" style="left:392.5px;top:392.48px">Pos. interaction</div>
<div class="yl" style="left:392.5px;top:408.97px">Neg. interaction</div>
<div class="yl" style="left:392.5px;top:425.46px">Conflict</div>
<div class="yl" style="left:392.5px;top:441.95px">Aggression</div>
<div class="xl" style="left:405.55px;top:463.42px">Acceleration in X</div>
<div class="xl" style="left:426.45px;top:463.4px">Acceleration in Y</div>
<div class="xl" style="left:447.35px;top:463.36px">Acceleration in Z</div>
<div class="xl" style="left:468.25px;top:462.65px">Gyroscope in X</div>
<div class="xl" style="left:489.15px;top:462.63px">Gyroscope in Y</div>
<div class="xl" style="left:510.05px;top:462.59px">Gyroscope in Z</div>
<div class="xl" style="left:530.95px;top:463.48px">Proximity to child</div>
<div class="xl" style="left:551.85px;top:460.29px">Step count</div>
<div class="xl" style="left:572.75px;top:462.53px">Minutes asleep</div>
<div class="xl" style="left:593.65px;top:462.83px">Sleep efficiency</div>
<div class="xl" style="left:614.55px;top:464.38px">Sedentary minutes</div>
<div class="xl" style="left:635.45px;top:464.76px">Very active minutes</div>
<div class="cl" style="left:672.6px;top:268.8px">1.00</div>
<div class="cl" style="left:672.6px;top:291.48px">0.75</div>
<div class="cl" style="left:672.6px;top:314.15px">0.50</div>
<div class="cl" style="left:672.6px;top:336.83px">0.25</div>
<div class="cl" style="left:672.6px;top:359.5px">0.00</div>
<div class="cl" style="left:672.6px;top:382.18px">−0.25</div>
<div class="cl" style="left:672.6px;top:404.85px">−0.50</div>
<div class="cl" style="left:672.6px;top:427.53px">−0.75</div>
<div class="cl" style="left:672.6px;top:450.2px">−1.00</div>
</div></div></body></html>
